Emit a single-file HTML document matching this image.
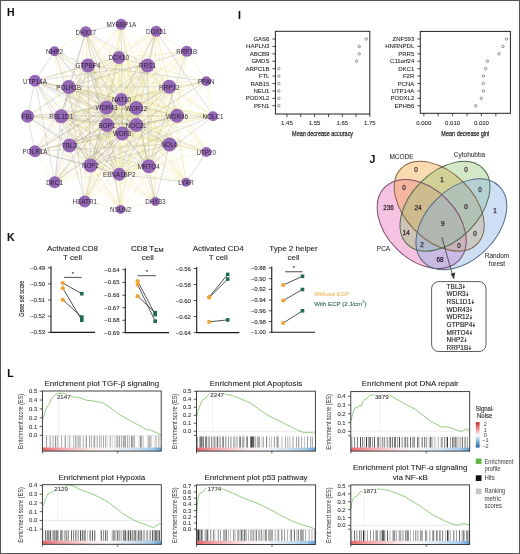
<!DOCTYPE html>
<html><head><meta charset="utf-8"><style>
html,body{margin:0;padding:0;background:#fff;width:520px;height:554px;overflow:hidden}
svg{display:block;will-change:transform}
text{font-family:"Liberation Sans",sans-serif}
</style></head><body>
<svg width="520" height="554" viewBox="0 0 520 554" font-family="Liberation Sans, sans-serif">
<rect width="520" height="554" fill="#fff"/>
<defs><filter id="eb" x="-5%" y="-5%" width="110%" height="110%"><feGaussianBlur stdDeviation="0.75"/></filter></defs>
<g stroke-linecap="round" filter="url(#eb)">
<line x1="85.75" y1="31.75" x2="54.5" y2="51.25" stroke="#e8e08c" stroke-opacity="0.38" stroke-width="0.85"/>
<line x1="85.75" y1="31.75" x2="118.75" y2="57.5" stroke="#e8e08c" stroke-opacity="0.38" stroke-width="0.85"/>
<line x1="85.75" y1="31.75" x2="88" y2="65.5" stroke="#e8e08c" stroke-opacity="0.38" stroke-width="0.85"/>
<line x1="85.75" y1="31.75" x2="169.25" y2="86.75" stroke="#e8e08c" stroke-opacity="0.38" stroke-width="0.85"/>
<line x1="85.75" y1="31.75" x2="136.25" y2="108" stroke="#e8e08c" stroke-opacity="0.38" stroke-width="0.85"/>
<line x1="85.75" y1="31.75" x2="177" y2="115.75" stroke="#e8e08c" stroke-opacity="0.38" stroke-width="0.85"/>
<line x1="85.75" y1="31.75" x2="107" y2="125" stroke="#e8e08c" stroke-opacity="0.38" stroke-width="0.85"/>
<line x1="85.75" y1="31.75" x2="136.25" y2="125" stroke="#e8e08c" stroke-opacity="0.38" stroke-width="0.85"/>
<line x1="85.75" y1="31.75" x2="69.5" y2="145.5" stroke="#e8e08c" stroke-opacity="0.38" stroke-width="0.85"/>
<line x1="85.75" y1="31.75" x2="169.5" y2="144.5" stroke="#e8e08c" stroke-opacity="0.38" stroke-width="0.85"/>
<line x1="85.75" y1="31.75" x2="90.5" y2="165.5" stroke="#e8e08c" stroke-opacity="0.38" stroke-width="0.85"/>
<line x1="85.75" y1="31.75" x2="148.75" y2="166.25" stroke="#e8e08c" stroke-opacity="0.38" stroke-width="0.85"/>
<line x1="85.75" y1="31.75" x2="119.25" y2="174.25" stroke="#e8e08c" stroke-opacity="0.38" stroke-width="0.85"/>
<line x1="121.25" y1="24.25" x2="118.75" y2="57.5" stroke="#e8e08c" stroke-opacity="0.38" stroke-width="0.85"/>
<line x1="121.25" y1="24.25" x2="88" y2="65.5" stroke="#e8e08c" stroke-opacity="0.38" stroke-width="0.85"/>
<line x1="121.25" y1="24.25" x2="68.75" y2="87" stroke="#e8e08c" stroke-opacity="0.38" stroke-width="0.85"/>
<line x1="121.25" y1="24.25" x2="169.25" y2="86.75" stroke="#e8e08c" stroke-opacity="0.38" stroke-width="0.85"/>
<line x1="121.25" y1="24.25" x2="106.5" y2="107.5" stroke="#e8e08c" stroke-opacity="0.38" stroke-width="0.85"/>
<line x1="121.25" y1="24.25" x2="136.25" y2="108" stroke="#e8e08c" stroke-opacity="0.38" stroke-width="0.85"/>
<line x1="121.25" y1="24.25" x2="107" y2="125" stroke="#e8e08c" stroke-opacity="0.38" stroke-width="0.85"/>
<line x1="121.25" y1="24.25" x2="136.25" y2="125" stroke="#e8e08c" stroke-opacity="0.38" stroke-width="0.85"/>
<line x1="121.25" y1="24.25" x2="69.5" y2="145.5" stroke="#e8e08c" stroke-opacity="0.38" stroke-width="0.85"/>
<line x1="121.25" y1="24.25" x2="169.5" y2="144.5" stroke="#e8e08c" stroke-opacity="0.38" stroke-width="0.85"/>
<line x1="121.25" y1="24.25" x2="90.5" y2="165.5" stroke="#e8e08c" stroke-opacity="0.38" stroke-width="0.85"/>
<line x1="121.25" y1="24.25" x2="148.75" y2="166.25" stroke="#e8e08c" stroke-opacity="0.38" stroke-width="0.85"/>
<line x1="156.25" y1="31.25" x2="186.75" y2="51.25" stroke="#e8e08c" stroke-opacity="0.38" stroke-width="0.85"/>
<line x1="156.25" y1="31.25" x2="118.75" y2="57.5" stroke="#e8e08c" stroke-opacity="0.38" stroke-width="0.85"/>
<line x1="156.25" y1="31.25" x2="88" y2="65.5" stroke="#e8e08c" stroke-opacity="0.38" stroke-width="0.85"/>
<line x1="156.25" y1="31.25" x2="68.75" y2="87" stroke="#e8e08c" stroke-opacity="0.38" stroke-width="0.85"/>
<line x1="156.25" y1="31.25" x2="169.25" y2="86.75" stroke="#e8e08c" stroke-opacity="0.38" stroke-width="0.85"/>
<line x1="156.25" y1="31.25" x2="121.5" y2="99.5" stroke="#e8e08c" stroke-opacity="0.38" stroke-width="0.85"/>
<line x1="156.25" y1="31.25" x2="106.5" y2="107.5" stroke="#e8e08c" stroke-opacity="0.38" stroke-width="0.85"/>
<line x1="156.25" y1="31.25" x2="136.25" y2="108" stroke="#e8e08c" stroke-opacity="0.38" stroke-width="0.85"/>
<line x1="156.25" y1="31.25" x2="61.25" y2="116.25" stroke="#e8e08c" stroke-opacity="0.38" stroke-width="0.85"/>
<line x1="156.25" y1="31.25" x2="177" y2="115.75" stroke="#e8e08c" stroke-opacity="0.38" stroke-width="0.85"/>
<line x1="156.25" y1="31.25" x2="122.25" y2="133.5" stroke="#e8e08c" stroke-opacity="0.38" stroke-width="0.85"/>
<line x1="156.25" y1="31.25" x2="69.5" y2="145.5" stroke="#e8e08c" stroke-opacity="0.38" stroke-width="0.85"/>
<line x1="156.25" y1="31.25" x2="169.5" y2="144.5" stroke="#e8e08c" stroke-opacity="0.38" stroke-width="0.85"/>
<line x1="156.25" y1="31.25" x2="90.5" y2="165.5" stroke="#e8e08c" stroke-opacity="0.38" stroke-width="0.85"/>
<line x1="156.25" y1="31.25" x2="148.75" y2="166.25" stroke="#e8e08c" stroke-opacity="0.38" stroke-width="0.85"/>
<line x1="156.25" y1="31.25" x2="155.4" y2="201.5" stroke="#e8e08c" stroke-opacity="0.38" stroke-width="0.85"/>
<line x1="54.5" y1="51.25" x2="68.75" y2="87" stroke="#e8e08c" stroke-opacity="0.38" stroke-width="0.85"/>
<line x1="54.5" y1="51.25" x2="61.25" y2="116.25" stroke="#e8e08c" stroke-opacity="0.38" stroke-width="0.85"/>
<line x1="54.5" y1="51.25" x2="177" y2="115.75" stroke="#e8e08c" stroke-opacity="0.38" stroke-width="0.85"/>
<line x1="54.5" y1="51.25" x2="169.5" y2="144.5" stroke="#e8e08c" stroke-opacity="0.38" stroke-width="0.85"/>
<line x1="54.5" y1="51.25" x2="119.25" y2="174.25" stroke="#e8e08c" stroke-opacity="0.38" stroke-width="0.85"/>
<line x1="186.75" y1="51.25" x2="118.75" y2="57.5" stroke="#e8e08c" stroke-opacity="0.38" stroke-width="0.85"/>
<line x1="186.75" y1="51.25" x2="88" y2="65.5" stroke="#e8e08c" stroke-opacity="0.38" stroke-width="0.85"/>
<line x1="186.75" y1="51.25" x2="147.5" y2="65.5" stroke="#e8e08c" stroke-opacity="0.38" stroke-width="0.85"/>
<line x1="186.75" y1="51.25" x2="206.25" y2="81.25" stroke="#e8e08c" stroke-opacity="0.38" stroke-width="0.85"/>
<line x1="186.75" y1="51.25" x2="169.25" y2="86.75" stroke="#e8e08c" stroke-opacity="0.38" stroke-width="0.85"/>
<line x1="186.75" y1="51.25" x2="121.5" y2="99.5" stroke="#e8e08c" stroke-opacity="0.38" stroke-width="0.85"/>
<line x1="186.75" y1="51.25" x2="106.5" y2="107.5" stroke="#e8e08c" stroke-opacity="0.38" stroke-width="0.85"/>
<line x1="186.75" y1="51.25" x2="136.25" y2="108" stroke="#e8e08c" stroke-opacity="0.38" stroke-width="0.85"/>
<line x1="186.75" y1="51.25" x2="177" y2="115.75" stroke="#e8e08c" stroke-opacity="0.38" stroke-width="0.85"/>
<line x1="186.75" y1="51.25" x2="107" y2="125" stroke="#e8e08c" stroke-opacity="0.38" stroke-width="0.85"/>
<line x1="186.75" y1="51.25" x2="136.25" y2="125" stroke="#e8e08c" stroke-opacity="0.38" stroke-width="0.85"/>
<line x1="186.75" y1="51.25" x2="169.5" y2="144.5" stroke="#e8e08c" stroke-opacity="0.38" stroke-width="0.85"/>
<line x1="186.75" y1="51.25" x2="90.5" y2="165.5" stroke="#e8e08c" stroke-opacity="0.38" stroke-width="0.85"/>
<line x1="118.75" y1="57.5" x2="35" y2="80.75" stroke="#e8e08c" stroke-opacity="0.38" stroke-width="0.85"/>
<line x1="118.75" y1="57.5" x2="206.25" y2="81.25" stroke="#e8e08c" stroke-opacity="0.38" stroke-width="0.85"/>
<line x1="118.75" y1="57.5" x2="68.75" y2="87" stroke="#e8e08c" stroke-opacity="0.38" stroke-width="0.85"/>
<line x1="118.75" y1="57.5" x2="169.25" y2="86.75" stroke="#e8e08c" stroke-opacity="0.38" stroke-width="0.85"/>
<line x1="118.75" y1="57.5" x2="121.5" y2="99.5" stroke="#e8e08c" stroke-opacity="0.38" stroke-width="0.85"/>
<line x1="118.75" y1="57.5" x2="106.5" y2="107.5" stroke="#e8e08c" stroke-opacity="0.38" stroke-width="0.85"/>
<line x1="118.75" y1="57.5" x2="136.25" y2="108" stroke="#e8e08c" stroke-opacity="0.38" stroke-width="0.85"/>
<line x1="118.75" y1="57.5" x2="177" y2="115.75" stroke="#e8e08c" stroke-opacity="0.38" stroke-width="0.85"/>
<line x1="118.75" y1="57.5" x2="213" y2="116.25" stroke="#e8e08c" stroke-opacity="0.38" stroke-width="0.85"/>
<line x1="118.75" y1="57.5" x2="107" y2="125" stroke="#e8e08c" stroke-opacity="0.38" stroke-width="0.85"/>
<line x1="118.75" y1="57.5" x2="136.25" y2="125" stroke="#e8e08c" stroke-opacity="0.38" stroke-width="0.85"/>
<line x1="118.75" y1="57.5" x2="122.25" y2="133.5" stroke="#e8e08c" stroke-opacity="0.38" stroke-width="0.85"/>
<line x1="118.75" y1="57.5" x2="69.5" y2="145.5" stroke="#e8e08c" stroke-opacity="0.38" stroke-width="0.85"/>
<line x1="118.75" y1="57.5" x2="169.5" y2="144.5" stroke="#e8e08c" stroke-opacity="0.38" stroke-width="0.85"/>
<line x1="118.75" y1="57.5" x2="35" y2="151.25" stroke="#e8e08c" stroke-opacity="0.38" stroke-width="0.85"/>
<line x1="118.75" y1="57.5" x2="206.25" y2="152" stroke="#e8e08c" stroke-opacity="0.38" stroke-width="0.85"/>
<line x1="118.75" y1="57.5" x2="148.75" y2="166.25" stroke="#e8e08c" stroke-opacity="0.38" stroke-width="0.85"/>
<line x1="118.75" y1="57.5" x2="119.25" y2="174.25" stroke="#e8e08c" stroke-opacity="0.38" stroke-width="0.85"/>
<line x1="118.75" y1="57.5" x2="54.75" y2="182.2" stroke="#e8e08c" stroke-opacity="0.38" stroke-width="0.85"/>
<line x1="118.75" y1="57.5" x2="186" y2="182.2" stroke="#e8e08c" stroke-opacity="0.38" stroke-width="0.85"/>
<line x1="118.75" y1="57.5" x2="84.8" y2="201.5" stroke="#e8e08c" stroke-opacity="0.38" stroke-width="0.85"/>
<line x1="118.75" y1="57.5" x2="120.6" y2="209.4" stroke="#e8e08c" stroke-opacity="0.38" stroke-width="0.85"/>
<line x1="88" y1="65.5" x2="147.5" y2="65.5" stroke="#e8e08c" stroke-opacity="0.38" stroke-width="0.85"/>
<line x1="88" y1="65.5" x2="169.25" y2="86.75" stroke="#e8e08c" stroke-opacity="0.38" stroke-width="0.85"/>
<line x1="88" y1="65.5" x2="106.5" y2="107.5" stroke="#e8e08c" stroke-opacity="0.38" stroke-width="0.85"/>
<line x1="88" y1="65.5" x2="136.25" y2="108" stroke="#e8e08c" stroke-opacity="0.38" stroke-width="0.85"/>
<line x1="88" y1="65.5" x2="61.25" y2="116.25" stroke="#e8e08c" stroke-opacity="0.38" stroke-width="0.85"/>
<line x1="88" y1="65.5" x2="177" y2="115.75" stroke="#e8e08c" stroke-opacity="0.38" stroke-width="0.85"/>
<line x1="88" y1="65.5" x2="136.25" y2="125" stroke="#e8e08c" stroke-opacity="0.38" stroke-width="0.85"/>
<line x1="88" y1="65.5" x2="69.5" y2="145.5" stroke="#e8e08c" stroke-opacity="0.38" stroke-width="0.85"/>
<line x1="88" y1="65.5" x2="169.5" y2="144.5" stroke="#e8e08c" stroke-opacity="0.38" stroke-width="0.85"/>
<line x1="88" y1="65.5" x2="206.25" y2="152" stroke="#e8e08c" stroke-opacity="0.38" stroke-width="0.85"/>
<line x1="88" y1="65.5" x2="148.75" y2="166.25" stroke="#e8e08c" stroke-opacity="0.38" stroke-width="0.85"/>
<line x1="88" y1="65.5" x2="186" y2="182.2" stroke="#e8e08c" stroke-opacity="0.38" stroke-width="0.85"/>
<line x1="88" y1="65.5" x2="84.8" y2="201.5" stroke="#e8e08c" stroke-opacity="0.38" stroke-width="0.85"/>
<line x1="147.5" y1="65.5" x2="68.75" y2="87" stroke="#e8e08c" stroke-opacity="0.38" stroke-width="0.85"/>
<line x1="147.5" y1="65.5" x2="121.5" y2="99.5" stroke="#e8e08c" stroke-opacity="0.38" stroke-width="0.85"/>
<line x1="147.5" y1="65.5" x2="106.5" y2="107.5" stroke="#e8e08c" stroke-opacity="0.38" stroke-width="0.85"/>
<line x1="147.5" y1="65.5" x2="136.25" y2="108" stroke="#e8e08c" stroke-opacity="0.38" stroke-width="0.85"/>
<line x1="147.5" y1="65.5" x2="27.5" y2="116.25" stroke="#e8e08c" stroke-opacity="0.38" stroke-width="0.85"/>
<line x1="147.5" y1="65.5" x2="61.25" y2="116.25" stroke="#e8e08c" stroke-opacity="0.38" stroke-width="0.85"/>
<line x1="147.5" y1="65.5" x2="177" y2="115.75" stroke="#e8e08c" stroke-opacity="0.38" stroke-width="0.85"/>
<line x1="147.5" y1="65.5" x2="213" y2="116.25" stroke="#e8e08c" stroke-opacity="0.38" stroke-width="0.85"/>
<line x1="147.5" y1="65.5" x2="136.25" y2="125" stroke="#e8e08c" stroke-opacity="0.38" stroke-width="0.85"/>
<line x1="147.5" y1="65.5" x2="169.5" y2="144.5" stroke="#e8e08c" stroke-opacity="0.38" stroke-width="0.85"/>
<line x1="147.5" y1="65.5" x2="206.25" y2="152" stroke="#e8e08c" stroke-opacity="0.38" stroke-width="0.85"/>
<line x1="147.5" y1="65.5" x2="119.25" y2="174.25" stroke="#e8e08c" stroke-opacity="0.38" stroke-width="0.85"/>
<line x1="147.5" y1="65.5" x2="54.75" y2="182.2" stroke="#e8e08c" stroke-opacity="0.38" stroke-width="0.85"/>
<line x1="147.5" y1="65.5" x2="84.8" y2="201.5" stroke="#e8e08c" stroke-opacity="0.38" stroke-width="0.85"/>
<line x1="147.5" y1="65.5" x2="155.4" y2="201.5" stroke="#e8e08c" stroke-opacity="0.38" stroke-width="0.85"/>
<line x1="35" y1="80.75" x2="68.75" y2="87" stroke="#e8e08c" stroke-opacity="0.38" stroke-width="0.85"/>
<line x1="35" y1="80.75" x2="121.5" y2="99.5" stroke="#e8e08c" stroke-opacity="0.38" stroke-width="0.85"/>
<line x1="35" y1="80.75" x2="106.5" y2="107.5" stroke="#e8e08c" stroke-opacity="0.38" stroke-width="0.85"/>
<line x1="35" y1="80.75" x2="61.25" y2="116.25" stroke="#e8e08c" stroke-opacity="0.38" stroke-width="0.85"/>
<line x1="35" y1="80.75" x2="213" y2="116.25" stroke="#e8e08c" stroke-opacity="0.38" stroke-width="0.85"/>
<line x1="206.25" y1="81.25" x2="68.75" y2="87" stroke="#e8e08c" stroke-opacity="0.38" stroke-width="0.85"/>
<line x1="206.25" y1="81.25" x2="169.25" y2="86.75" stroke="#e8e08c" stroke-opacity="0.38" stroke-width="0.85"/>
<line x1="206.25" y1="81.25" x2="106.5" y2="107.5" stroke="#e8e08c" stroke-opacity="0.38" stroke-width="0.85"/>
<line x1="206.25" y1="81.25" x2="136.25" y2="108" stroke="#e8e08c" stroke-opacity="0.38" stroke-width="0.85"/>
<line x1="206.25" y1="81.25" x2="61.25" y2="116.25" stroke="#e8e08c" stroke-opacity="0.38" stroke-width="0.85"/>
<line x1="206.25" y1="81.25" x2="213" y2="116.25" stroke="#e8e08c" stroke-opacity="0.38" stroke-width="0.85"/>
<line x1="206.25" y1="81.25" x2="136.25" y2="125" stroke="#e8e08c" stroke-opacity="0.38" stroke-width="0.85"/>
<line x1="206.25" y1="81.25" x2="148.75" y2="166.25" stroke="#e8e08c" stroke-opacity="0.38" stroke-width="0.85"/>
<line x1="206.25" y1="81.25" x2="119.25" y2="174.25" stroke="#e8e08c" stroke-opacity="0.38" stroke-width="0.85"/>
<line x1="68.75" y1="87" x2="136.25" y2="108" stroke="#e8e08c" stroke-opacity="0.38" stroke-width="0.85"/>
<line x1="68.75" y1="87" x2="27.5" y2="116.25" stroke="#e8e08c" stroke-opacity="0.38" stroke-width="0.85"/>
<line x1="68.75" y1="87" x2="177" y2="115.75" stroke="#e8e08c" stroke-opacity="0.38" stroke-width="0.85"/>
<line x1="68.75" y1="87" x2="213" y2="116.25" stroke="#e8e08c" stroke-opacity="0.38" stroke-width="0.85"/>
<line x1="68.75" y1="87" x2="107" y2="125" stroke="#e8e08c" stroke-opacity="0.38" stroke-width="0.85"/>
<line x1="68.75" y1="87" x2="136.25" y2="125" stroke="#e8e08c" stroke-opacity="0.38" stroke-width="0.85"/>
<line x1="68.75" y1="87" x2="69.5" y2="145.5" stroke="#e8e08c" stroke-opacity="0.38" stroke-width="0.85"/>
<line x1="68.75" y1="87" x2="169.5" y2="144.5" stroke="#e8e08c" stroke-opacity="0.38" stroke-width="0.85"/>
<line x1="68.75" y1="87" x2="206.25" y2="152" stroke="#e8e08c" stroke-opacity="0.38" stroke-width="0.85"/>
<line x1="68.75" y1="87" x2="90.5" y2="165.5" stroke="#e8e08c" stroke-opacity="0.38" stroke-width="0.85"/>
<line x1="68.75" y1="87" x2="148.75" y2="166.25" stroke="#e8e08c" stroke-opacity="0.38" stroke-width="0.85"/>
<line x1="68.75" y1="87" x2="186" y2="182.2" stroke="#e8e08c" stroke-opacity="0.38" stroke-width="0.85"/>
<line x1="68.75" y1="87" x2="155.4" y2="201.5" stroke="#e8e08c" stroke-opacity="0.38" stroke-width="0.85"/>
<line x1="68.75" y1="87" x2="120.6" y2="209.4" stroke="#e8e08c" stroke-opacity="0.38" stroke-width="0.85"/>
<line x1="169.25" y1="86.75" x2="121.5" y2="99.5" stroke="#e8e08c" stroke-opacity="0.38" stroke-width="0.85"/>
<line x1="169.25" y1="86.75" x2="106.5" y2="107.5" stroke="#e8e08c" stroke-opacity="0.38" stroke-width="0.85"/>
<line x1="169.25" y1="86.75" x2="61.25" y2="116.25" stroke="#e8e08c" stroke-opacity="0.38" stroke-width="0.85"/>
<line x1="169.25" y1="86.75" x2="213" y2="116.25" stroke="#e8e08c" stroke-opacity="0.38" stroke-width="0.85"/>
<line x1="169.25" y1="86.75" x2="107" y2="125" stroke="#e8e08c" stroke-opacity="0.38" stroke-width="0.85"/>
<line x1="169.25" y1="86.75" x2="136.25" y2="125" stroke="#e8e08c" stroke-opacity="0.38" stroke-width="0.85"/>
<line x1="169.25" y1="86.75" x2="122.25" y2="133.5" stroke="#e8e08c" stroke-opacity="0.38" stroke-width="0.85"/>
<line x1="169.25" y1="86.75" x2="169.5" y2="144.5" stroke="#e8e08c" stroke-opacity="0.38" stroke-width="0.85"/>
<line x1="169.25" y1="86.75" x2="35" y2="151.25" stroke="#e8e08c" stroke-opacity="0.38" stroke-width="0.85"/>
<line x1="169.25" y1="86.75" x2="206.25" y2="152" stroke="#e8e08c" stroke-opacity="0.38" stroke-width="0.85"/>
<line x1="169.25" y1="86.75" x2="148.75" y2="166.25" stroke="#e8e08c" stroke-opacity="0.38" stroke-width="0.85"/>
<line x1="169.25" y1="86.75" x2="54.75" y2="182.2" stroke="#e8e08c" stroke-opacity="0.38" stroke-width="0.85"/>
<line x1="169.25" y1="86.75" x2="186" y2="182.2" stroke="#e8e08c" stroke-opacity="0.38" stroke-width="0.85"/>
<line x1="169.25" y1="86.75" x2="84.8" y2="201.5" stroke="#e8e08c" stroke-opacity="0.38" stroke-width="0.85"/>
<line x1="169.25" y1="86.75" x2="120.6" y2="209.4" stroke="#e8e08c" stroke-opacity="0.38" stroke-width="0.85"/>
<line x1="121.5" y1="99.5" x2="136.25" y2="108" stroke="#e8e08c" stroke-opacity="0.38" stroke-width="0.85"/>
<line x1="121.5" y1="99.5" x2="177" y2="115.75" stroke="#e8e08c" stroke-opacity="0.38" stroke-width="0.85"/>
<line x1="121.5" y1="99.5" x2="213" y2="116.25" stroke="#e8e08c" stroke-opacity="0.38" stroke-width="0.85"/>
<line x1="121.5" y1="99.5" x2="169.5" y2="144.5" stroke="#e8e08c" stroke-opacity="0.38" stroke-width="0.85"/>
<line x1="121.5" y1="99.5" x2="90.5" y2="165.5" stroke="#e8e08c" stroke-opacity="0.38" stroke-width="0.85"/>
<line x1="121.5" y1="99.5" x2="148.75" y2="166.25" stroke="#e8e08c" stroke-opacity="0.38" stroke-width="0.85"/>
<line x1="121.5" y1="99.5" x2="119.25" y2="174.25" stroke="#e8e08c" stroke-opacity="0.38" stroke-width="0.85"/>
<line x1="121.5" y1="99.5" x2="186" y2="182.2" stroke="#e8e08c" stroke-opacity="0.38" stroke-width="0.85"/>
<line x1="121.5" y1="99.5" x2="84.8" y2="201.5" stroke="#e8e08c" stroke-opacity="0.38" stroke-width="0.85"/>
<line x1="106.5" y1="107.5" x2="136.25" y2="108" stroke="#e8e08c" stroke-opacity="0.38" stroke-width="0.85"/>
<line x1="106.5" y1="107.5" x2="61.25" y2="116.25" stroke="#e8e08c" stroke-opacity="0.38" stroke-width="0.85"/>
<line x1="106.5" y1="107.5" x2="177" y2="115.75" stroke="#e8e08c" stroke-opacity="0.38" stroke-width="0.85"/>
<line x1="106.5" y1="107.5" x2="213" y2="116.25" stroke="#e8e08c" stroke-opacity="0.38" stroke-width="0.85"/>
<line x1="106.5" y1="107.5" x2="122.25" y2="133.5" stroke="#e8e08c" stroke-opacity="0.38" stroke-width="0.85"/>
<line x1="106.5" y1="107.5" x2="69.5" y2="145.5" stroke="#e8e08c" stroke-opacity="0.38" stroke-width="0.85"/>
<line x1="106.5" y1="107.5" x2="169.5" y2="144.5" stroke="#e8e08c" stroke-opacity="0.38" stroke-width="0.85"/>
<line x1="106.5" y1="107.5" x2="206.25" y2="152" stroke="#e8e08c" stroke-opacity="0.38" stroke-width="0.85"/>
<line x1="106.5" y1="107.5" x2="148.75" y2="166.25" stroke="#e8e08c" stroke-opacity="0.38" stroke-width="0.85"/>
<line x1="106.5" y1="107.5" x2="119.25" y2="174.25" stroke="#e8e08c" stroke-opacity="0.38" stroke-width="0.85"/>
<line x1="106.5" y1="107.5" x2="186" y2="182.2" stroke="#e8e08c" stroke-opacity="0.38" stroke-width="0.85"/>
<line x1="106.5" y1="107.5" x2="155.4" y2="201.5" stroke="#e8e08c" stroke-opacity="0.38" stroke-width="0.85"/>
<line x1="106.5" y1="107.5" x2="120.6" y2="209.4" stroke="#e8e08c" stroke-opacity="0.38" stroke-width="0.85"/>
<line x1="136.25" y1="108" x2="27.5" y2="116.25" stroke="#e8e08c" stroke-opacity="0.38" stroke-width="0.85"/>
<line x1="136.25" y1="108" x2="177" y2="115.75" stroke="#e8e08c" stroke-opacity="0.38" stroke-width="0.85"/>
<line x1="136.25" y1="108" x2="213" y2="116.25" stroke="#e8e08c" stroke-opacity="0.38" stroke-width="0.85"/>
<line x1="136.25" y1="108" x2="107" y2="125" stroke="#e8e08c" stroke-opacity="0.38" stroke-width="0.85"/>
<line x1="136.25" y1="108" x2="122.25" y2="133.5" stroke="#e8e08c" stroke-opacity="0.38" stroke-width="0.85"/>
<line x1="136.25" y1="108" x2="69.5" y2="145.5" stroke="#e8e08c" stroke-opacity="0.38" stroke-width="0.85"/>
<line x1="136.25" y1="108" x2="169.5" y2="144.5" stroke="#e8e08c" stroke-opacity="0.38" stroke-width="0.85"/>
<line x1="136.25" y1="108" x2="90.5" y2="165.5" stroke="#e8e08c" stroke-opacity="0.38" stroke-width="0.85"/>
<line x1="136.25" y1="108" x2="119.25" y2="174.25" stroke="#e8e08c" stroke-opacity="0.38" stroke-width="0.85"/>
<line x1="136.25" y1="108" x2="54.75" y2="182.2" stroke="#e8e08c" stroke-opacity="0.38" stroke-width="0.85"/>
<line x1="136.25" y1="108" x2="186" y2="182.2" stroke="#e8e08c" stroke-opacity="0.38" stroke-width="0.85"/>
<line x1="136.25" y1="108" x2="84.8" y2="201.5" stroke="#e8e08c" stroke-opacity="0.38" stroke-width="0.85"/>
<line x1="136.25" y1="108" x2="120.6" y2="209.4" stroke="#e8e08c" stroke-opacity="0.38" stroke-width="0.85"/>
<line x1="27.5" y1="116.25" x2="107" y2="125" stroke="#e8e08c" stroke-opacity="0.38" stroke-width="0.85"/>
<line x1="27.5" y1="116.25" x2="122.25" y2="133.5" stroke="#e8e08c" stroke-opacity="0.38" stroke-width="0.85"/>
<line x1="27.5" y1="116.25" x2="169.5" y2="144.5" stroke="#e8e08c" stroke-opacity="0.38" stroke-width="0.85"/>
<line x1="27.5" y1="116.25" x2="148.75" y2="166.25" stroke="#e8e08c" stroke-opacity="0.38" stroke-width="0.85"/>
<line x1="27.5" y1="116.25" x2="120.6" y2="209.4" stroke="#e8e08c" stroke-opacity="0.38" stroke-width="0.85"/>
<line x1="61.25" y1="116.25" x2="177" y2="115.75" stroke="#e8e08c" stroke-opacity="0.38" stroke-width="0.85"/>
<line x1="61.25" y1="116.25" x2="213" y2="116.25" stroke="#e8e08c" stroke-opacity="0.38" stroke-width="0.85"/>
<line x1="61.25" y1="116.25" x2="122.25" y2="133.5" stroke="#e8e08c" stroke-opacity="0.38" stroke-width="0.85"/>
<line x1="61.25" y1="116.25" x2="69.5" y2="145.5" stroke="#e8e08c" stroke-opacity="0.38" stroke-width="0.85"/>
<line x1="61.25" y1="116.25" x2="169.5" y2="144.5" stroke="#e8e08c" stroke-opacity="0.38" stroke-width="0.85"/>
<line x1="61.25" y1="116.25" x2="35" y2="151.25" stroke="#e8e08c" stroke-opacity="0.38" stroke-width="0.85"/>
<line x1="61.25" y1="116.25" x2="206.25" y2="152" stroke="#e8e08c" stroke-opacity="0.38" stroke-width="0.85"/>
<line x1="61.25" y1="116.25" x2="186" y2="182.2" stroke="#e8e08c" stroke-opacity="0.38" stroke-width="0.85"/>
<line x1="61.25" y1="116.25" x2="155.4" y2="201.5" stroke="#e8e08c" stroke-opacity="0.38" stroke-width="0.85"/>
<line x1="61.25" y1="116.25" x2="120.6" y2="209.4" stroke="#e8e08c" stroke-opacity="0.38" stroke-width="0.85"/>
<line x1="177" y1="115.75" x2="107" y2="125" stroke="#e8e08c" stroke-opacity="0.38" stroke-width="0.85"/>
<line x1="177" y1="115.75" x2="136.25" y2="125" stroke="#e8e08c" stroke-opacity="0.38" stroke-width="0.85"/>
<line x1="177" y1="115.75" x2="122.25" y2="133.5" stroke="#e8e08c" stroke-opacity="0.38" stroke-width="0.85"/>
<line x1="177" y1="115.75" x2="169.5" y2="144.5" stroke="#e8e08c" stroke-opacity="0.38" stroke-width="0.85"/>
<line x1="177" y1="115.75" x2="206.25" y2="152" stroke="#e8e08c" stroke-opacity="0.38" stroke-width="0.85"/>
<line x1="177" y1="115.75" x2="119.25" y2="174.25" stroke="#e8e08c" stroke-opacity="0.38" stroke-width="0.85"/>
<line x1="177" y1="115.75" x2="186" y2="182.2" stroke="#e8e08c" stroke-opacity="0.38" stroke-width="0.85"/>
<line x1="177" y1="115.75" x2="84.8" y2="201.5" stroke="#e8e08c" stroke-opacity="0.38" stroke-width="0.85"/>
<line x1="213" y1="116.25" x2="136.25" y2="125" stroke="#e8e08c" stroke-opacity="0.38" stroke-width="0.85"/>
<line x1="213" y1="116.25" x2="69.5" y2="145.5" stroke="#e8e08c" stroke-opacity="0.38" stroke-width="0.85"/>
<line x1="213" y1="116.25" x2="35" y2="151.25" stroke="#e8e08c" stroke-opacity="0.38" stroke-width="0.85"/>
<line x1="107" y1="125" x2="136.25" y2="125" stroke="#e8e08c" stroke-opacity="0.38" stroke-width="0.85"/>
<line x1="107" y1="125" x2="122.25" y2="133.5" stroke="#e8e08c" stroke-opacity="0.38" stroke-width="0.85"/>
<line x1="107" y1="125" x2="169.5" y2="144.5" stroke="#e8e08c" stroke-opacity="0.38" stroke-width="0.85"/>
<line x1="107" y1="125" x2="206.25" y2="152" stroke="#e8e08c" stroke-opacity="0.38" stroke-width="0.85"/>
<line x1="107" y1="125" x2="148.75" y2="166.25" stroke="#e8e08c" stroke-opacity="0.38" stroke-width="0.85"/>
<line x1="107" y1="125" x2="119.25" y2="174.25" stroke="#e8e08c" stroke-opacity="0.38" stroke-width="0.85"/>
<line x1="107" y1="125" x2="54.75" y2="182.2" stroke="#e8e08c" stroke-opacity="0.38" stroke-width="0.85"/>
<line x1="107" y1="125" x2="186" y2="182.2" stroke="#e8e08c" stroke-opacity="0.38" stroke-width="0.85"/>
<line x1="107" y1="125" x2="84.8" y2="201.5" stroke="#e8e08c" stroke-opacity="0.38" stroke-width="0.85"/>
<line x1="107" y1="125" x2="155.4" y2="201.5" stroke="#e8e08c" stroke-opacity="0.38" stroke-width="0.85"/>
<line x1="107" y1="125" x2="120.6" y2="209.4" stroke="#e8e08c" stroke-opacity="0.38" stroke-width="0.85"/>
<line x1="136.25" y1="125" x2="69.5" y2="145.5" stroke="#e8e08c" stroke-opacity="0.38" stroke-width="0.85"/>
<line x1="136.25" y1="125" x2="148.75" y2="166.25" stroke="#e8e08c" stroke-opacity="0.38" stroke-width="0.85"/>
<line x1="136.25" y1="125" x2="186" y2="182.2" stroke="#e8e08c" stroke-opacity="0.38" stroke-width="0.85"/>
<line x1="136.25" y1="125" x2="84.8" y2="201.5" stroke="#e8e08c" stroke-opacity="0.38" stroke-width="0.85"/>
<line x1="136.25" y1="125" x2="155.4" y2="201.5" stroke="#e8e08c" stroke-opacity="0.38" stroke-width="0.85"/>
<line x1="136.25" y1="125" x2="120.6" y2="209.4" stroke="#e8e08c" stroke-opacity="0.38" stroke-width="0.85"/>
<line x1="122.25" y1="133.5" x2="69.5" y2="145.5" stroke="#e8e08c" stroke-opacity="0.38" stroke-width="0.85"/>
<line x1="122.25" y1="133.5" x2="169.5" y2="144.5" stroke="#e8e08c" stroke-opacity="0.38" stroke-width="0.85"/>
<line x1="122.25" y1="133.5" x2="35" y2="151.25" stroke="#e8e08c" stroke-opacity="0.38" stroke-width="0.85"/>
<line x1="122.25" y1="133.5" x2="206.25" y2="152" stroke="#e8e08c" stroke-opacity="0.38" stroke-width="0.85"/>
<line x1="122.25" y1="133.5" x2="119.25" y2="174.25" stroke="#e8e08c" stroke-opacity="0.38" stroke-width="0.85"/>
<line x1="122.25" y1="133.5" x2="120.6" y2="209.4" stroke="#e8e08c" stroke-opacity="0.38" stroke-width="0.85"/>
<line x1="69.5" y1="145.5" x2="169.5" y2="144.5" stroke="#e8e08c" stroke-opacity="0.38" stroke-width="0.85"/>
<line x1="69.5" y1="145.5" x2="119.25" y2="174.25" stroke="#e8e08c" stroke-opacity="0.38" stroke-width="0.85"/>
<line x1="69.5" y1="145.5" x2="54.75" y2="182.2" stroke="#e8e08c" stroke-opacity="0.38" stroke-width="0.85"/>
<line x1="69.5" y1="145.5" x2="186" y2="182.2" stroke="#e8e08c" stroke-opacity="0.38" stroke-width="0.85"/>
<line x1="69.5" y1="145.5" x2="155.4" y2="201.5" stroke="#e8e08c" stroke-opacity="0.38" stroke-width="0.85"/>
<line x1="69.5" y1="145.5" x2="120.6" y2="209.4" stroke="#e8e08c" stroke-opacity="0.38" stroke-width="0.85"/>
<line x1="169.5" y1="144.5" x2="206.25" y2="152" stroke="#e8e08c" stroke-opacity="0.38" stroke-width="0.85"/>
<line x1="169.5" y1="144.5" x2="148.75" y2="166.25" stroke="#e8e08c" stroke-opacity="0.38" stroke-width="0.85"/>
<line x1="169.5" y1="144.5" x2="54.75" y2="182.2" stroke="#e8e08c" stroke-opacity="0.38" stroke-width="0.85"/>
<line x1="169.5" y1="144.5" x2="186" y2="182.2" stroke="#e8e08c" stroke-opacity="0.38" stroke-width="0.85"/>
<line x1="169.5" y1="144.5" x2="84.8" y2="201.5" stroke="#e8e08c" stroke-opacity="0.38" stroke-width="0.85"/>
<line x1="169.5" y1="144.5" x2="120.6" y2="209.4" stroke="#e8e08c" stroke-opacity="0.38" stroke-width="0.85"/>
<line x1="35" y1="151.25" x2="148.75" y2="166.25" stroke="#e8e08c" stroke-opacity="0.38" stroke-width="0.85"/>
<line x1="35" y1="151.25" x2="54.75" y2="182.2" stroke="#e8e08c" stroke-opacity="0.38" stroke-width="0.85"/>
<line x1="206.25" y1="152" x2="119.25" y2="174.25" stroke="#e8e08c" stroke-opacity="0.38" stroke-width="0.85"/>
<line x1="90.5" y1="165.5" x2="148.75" y2="166.25" stroke="#e8e08c" stroke-opacity="0.38" stroke-width="0.85"/>
<line x1="90.5" y1="165.5" x2="54.75" y2="182.2" stroke="#e8e08c" stroke-opacity="0.38" stroke-width="0.85"/>
<line x1="90.5" y1="165.5" x2="186" y2="182.2" stroke="#e8e08c" stroke-opacity="0.38" stroke-width="0.85"/>
<line x1="90.5" y1="165.5" x2="84.8" y2="201.5" stroke="#e8e08c" stroke-opacity="0.38" stroke-width="0.85"/>
<line x1="90.5" y1="165.5" x2="155.4" y2="201.5" stroke="#e8e08c" stroke-opacity="0.38" stroke-width="0.85"/>
<line x1="90.5" y1="165.5" x2="120.6" y2="209.4" stroke="#e8e08c" stroke-opacity="0.38" stroke-width="0.85"/>
<line x1="148.75" y1="166.25" x2="119.25" y2="174.25" stroke="#e8e08c" stroke-opacity="0.38" stroke-width="0.85"/>
<line x1="148.75" y1="166.25" x2="54.75" y2="182.2" stroke="#e8e08c" stroke-opacity="0.38" stroke-width="0.85"/>
<line x1="148.75" y1="166.25" x2="155.4" y2="201.5" stroke="#e8e08c" stroke-opacity="0.38" stroke-width="0.85"/>
<line x1="119.25" y1="174.25" x2="155.4" y2="201.5" stroke="#e8e08c" stroke-opacity="0.38" stroke-width="0.85"/>
<line x1="119.25" y1="174.25" x2="120.6" y2="209.4" stroke="#e8e08c" stroke-opacity="0.38" stroke-width="0.85"/>
<line x1="84.8" y1="201.5" x2="120.6" y2="209.4" stroke="#e8e08c" stroke-opacity="0.38" stroke-width="0.85"/>
<line x1="155.4" y1="201.5" x2="120.6" y2="209.4" stroke="#e8e08c" stroke-opacity="0.38" stroke-width="0.85"/>
<line x1="85.75" y1="31.75" x2="121.25" y2="24.25" stroke="#aaa094" stroke-opacity="0.36" stroke-width="0.95"/>
<line x1="85.75" y1="31.75" x2="147.5" y2="65.5" stroke="#aaa094" stroke-opacity="0.36" stroke-width="0.95"/>
<line x1="85.75" y1="31.75" x2="68.75" y2="87" stroke="#aaa094" stroke-opacity="0.36" stroke-width="0.95"/>
<line x1="85.75" y1="31.75" x2="121.5" y2="99.5" stroke="#aaa094" stroke-opacity="0.36" stroke-width="0.95"/>
<line x1="85.75" y1="31.75" x2="61.25" y2="116.25" stroke="#aaa094" stroke-opacity="0.36" stroke-width="0.95"/>
<line x1="85.75" y1="31.75" x2="122.25" y2="133.5" stroke="#aaa094" stroke-opacity="0.36" stroke-width="0.95"/>
<line x1="85.75" y1="31.75" x2="120.6" y2="209.4" stroke="#aaa094" stroke-opacity="0.36" stroke-width="0.95"/>
<line x1="121.25" y1="24.25" x2="122.25" y2="133.5" stroke="#aaa094" stroke-opacity="0.36" stroke-width="0.95"/>
<line x1="156.25" y1="31.25" x2="147.5" y2="65.5" stroke="#aaa094" stroke-opacity="0.36" stroke-width="0.95"/>
<line x1="156.25" y1="31.25" x2="213" y2="116.25" stroke="#aaa094" stroke-opacity="0.36" stroke-width="0.95"/>
<line x1="156.25" y1="31.25" x2="107" y2="125" stroke="#aaa094" stroke-opacity="0.36" stroke-width="0.95"/>
<line x1="156.25" y1="31.25" x2="136.25" y2="125" stroke="#aaa094" stroke-opacity="0.36" stroke-width="0.95"/>
<line x1="54.5" y1="51.25" x2="88" y2="65.5" stroke="#aaa094" stroke-opacity="0.36" stroke-width="0.95"/>
<line x1="54.5" y1="51.25" x2="35" y2="80.75" stroke="#aaa094" stroke-opacity="0.36" stroke-width="0.95"/>
<line x1="54.5" y1="51.25" x2="106.5" y2="107.5" stroke="#aaa094" stroke-opacity="0.36" stroke-width="0.95"/>
<line x1="54.5" y1="51.25" x2="136.25" y2="108" stroke="#aaa094" stroke-opacity="0.36" stroke-width="0.95"/>
<line x1="54.5" y1="51.25" x2="90.5" y2="165.5" stroke="#aaa094" stroke-opacity="0.36" stroke-width="0.95"/>
<line x1="54.5" y1="51.25" x2="148.75" y2="166.25" stroke="#aaa094" stroke-opacity="0.36" stroke-width="0.95"/>
<line x1="186.75" y1="51.25" x2="68.75" y2="87" stroke="#aaa094" stroke-opacity="0.36" stroke-width="0.95"/>
<line x1="186.75" y1="51.25" x2="148.75" y2="166.25" stroke="#aaa094" stroke-opacity="0.36" stroke-width="0.95"/>
<line x1="118.75" y1="57.5" x2="88" y2="65.5" stroke="#aaa094" stroke-opacity="0.36" stroke-width="0.95"/>
<line x1="118.75" y1="57.5" x2="147.5" y2="65.5" stroke="#aaa094" stroke-opacity="0.36" stroke-width="0.95"/>
<line x1="118.75" y1="57.5" x2="27.5" y2="116.25" stroke="#aaa094" stroke-opacity="0.36" stroke-width="0.95"/>
<line x1="118.75" y1="57.5" x2="61.25" y2="116.25" stroke="#aaa094" stroke-opacity="0.36" stroke-width="0.95"/>
<line x1="118.75" y1="57.5" x2="90.5" y2="165.5" stroke="#aaa094" stroke-opacity="0.36" stroke-width="0.95"/>
<line x1="88" y1="65.5" x2="35" y2="80.75" stroke="#aaa094" stroke-opacity="0.36" stroke-width="0.95"/>
<line x1="88" y1="65.5" x2="206.25" y2="81.25" stroke="#aaa094" stroke-opacity="0.36" stroke-width="0.95"/>
<line x1="88" y1="65.5" x2="68.75" y2="87" stroke="#aaa094" stroke-opacity="0.36" stroke-width="0.95"/>
<line x1="88" y1="65.5" x2="121.5" y2="99.5" stroke="#aaa094" stroke-opacity="0.36" stroke-width="0.95"/>
<line x1="88" y1="65.5" x2="107" y2="125" stroke="#aaa094" stroke-opacity="0.36" stroke-width="0.95"/>
<line x1="88" y1="65.5" x2="122.25" y2="133.5" stroke="#aaa094" stroke-opacity="0.36" stroke-width="0.95"/>
<line x1="88" y1="65.5" x2="35" y2="151.25" stroke="#aaa094" stroke-opacity="0.36" stroke-width="0.95"/>
<line x1="88" y1="65.5" x2="90.5" y2="165.5" stroke="#aaa094" stroke-opacity="0.36" stroke-width="0.95"/>
<line x1="88" y1="65.5" x2="119.25" y2="174.25" stroke="#aaa094" stroke-opacity="0.36" stroke-width="0.95"/>
<line x1="88" y1="65.5" x2="54.75" y2="182.2" stroke="#aaa094" stroke-opacity="0.36" stroke-width="0.95"/>
<line x1="147.5" y1="65.5" x2="35" y2="80.75" stroke="#aaa094" stroke-opacity="0.36" stroke-width="0.95"/>
<line x1="147.5" y1="65.5" x2="169.25" y2="86.75" stroke="#aaa094" stroke-opacity="0.36" stroke-width="0.95"/>
<line x1="147.5" y1="65.5" x2="107" y2="125" stroke="#aaa094" stroke-opacity="0.36" stroke-width="0.95"/>
<line x1="147.5" y1="65.5" x2="122.25" y2="133.5" stroke="#aaa094" stroke-opacity="0.36" stroke-width="0.95"/>
<line x1="147.5" y1="65.5" x2="69.5" y2="145.5" stroke="#aaa094" stroke-opacity="0.36" stroke-width="0.95"/>
<line x1="147.5" y1="65.5" x2="35" y2="151.25" stroke="#aaa094" stroke-opacity="0.36" stroke-width="0.95"/>
<line x1="147.5" y1="65.5" x2="90.5" y2="165.5" stroke="#aaa094" stroke-opacity="0.36" stroke-width="0.95"/>
<line x1="147.5" y1="65.5" x2="148.75" y2="166.25" stroke="#aaa094" stroke-opacity="0.36" stroke-width="0.95"/>
<line x1="35" y1="80.75" x2="136.25" y2="108" stroke="#aaa094" stroke-opacity="0.36" stroke-width="0.95"/>
<line x1="35" y1="80.75" x2="27.5" y2="116.25" stroke="#aaa094" stroke-opacity="0.36" stroke-width="0.95"/>
<line x1="35" y1="80.75" x2="177" y2="115.75" stroke="#aaa094" stroke-opacity="0.36" stroke-width="0.95"/>
<line x1="35" y1="80.75" x2="136.25" y2="125" stroke="#aaa094" stroke-opacity="0.36" stroke-width="0.95"/>
<line x1="35" y1="80.75" x2="122.25" y2="133.5" stroke="#aaa094" stroke-opacity="0.36" stroke-width="0.95"/>
<line x1="35" y1="80.75" x2="69.5" y2="145.5" stroke="#aaa094" stroke-opacity="0.36" stroke-width="0.95"/>
<line x1="35" y1="80.75" x2="169.5" y2="144.5" stroke="#aaa094" stroke-opacity="0.36" stroke-width="0.95"/>
<line x1="35" y1="80.75" x2="90.5" y2="165.5" stroke="#aaa094" stroke-opacity="0.36" stroke-width="0.95"/>
<line x1="35" y1="80.75" x2="119.25" y2="174.25" stroke="#aaa094" stroke-opacity="0.36" stroke-width="0.95"/>
<line x1="35" y1="80.75" x2="54.75" y2="182.2" stroke="#aaa094" stroke-opacity="0.36" stroke-width="0.95"/>
<line x1="206.25" y1="81.25" x2="121.5" y2="99.5" stroke="#aaa094" stroke-opacity="0.36" stroke-width="0.95"/>
<line x1="206.25" y1="81.25" x2="122.25" y2="133.5" stroke="#aaa094" stroke-opacity="0.36" stroke-width="0.95"/>
<line x1="68.75" y1="87" x2="169.25" y2="86.75" stroke="#aaa094" stroke-opacity="0.36" stroke-width="0.95"/>
<line x1="68.75" y1="87" x2="121.5" y2="99.5" stroke="#aaa094" stroke-opacity="0.36" stroke-width="0.95"/>
<line x1="68.75" y1="87" x2="106.5" y2="107.5" stroke="#aaa094" stroke-opacity="0.36" stroke-width="0.95"/>
<line x1="68.75" y1="87" x2="61.25" y2="116.25" stroke="#aaa094" stroke-opacity="0.36" stroke-width="0.95"/>
<line x1="68.75" y1="87" x2="122.25" y2="133.5" stroke="#aaa094" stroke-opacity="0.36" stroke-width="0.95"/>
<line x1="68.75" y1="87" x2="119.25" y2="174.25" stroke="#aaa094" stroke-opacity="0.36" stroke-width="0.95"/>
<line x1="68.75" y1="87" x2="54.75" y2="182.2" stroke="#aaa094" stroke-opacity="0.36" stroke-width="0.95"/>
<line x1="68.75" y1="87" x2="84.8" y2="201.5" stroke="#aaa094" stroke-opacity="0.36" stroke-width="0.95"/>
<line x1="169.25" y1="86.75" x2="136.25" y2="108" stroke="#aaa094" stroke-opacity="0.36" stroke-width="0.95"/>
<line x1="169.25" y1="86.75" x2="177" y2="115.75" stroke="#aaa094" stroke-opacity="0.36" stroke-width="0.95"/>
<line x1="169.25" y1="86.75" x2="69.5" y2="145.5" stroke="#aaa094" stroke-opacity="0.36" stroke-width="0.95"/>
<line x1="169.25" y1="86.75" x2="90.5" y2="165.5" stroke="#aaa094" stroke-opacity="0.36" stroke-width="0.95"/>
<line x1="169.25" y1="86.75" x2="119.25" y2="174.25" stroke="#aaa094" stroke-opacity="0.36" stroke-width="0.95"/>
<line x1="121.5" y1="99.5" x2="106.5" y2="107.5" stroke="#aaa094" stroke-opacity="0.36" stroke-width="0.95"/>
<line x1="121.5" y1="99.5" x2="61.25" y2="116.25" stroke="#aaa094" stroke-opacity="0.36" stroke-width="0.95"/>
<line x1="121.5" y1="99.5" x2="107" y2="125" stroke="#aaa094" stroke-opacity="0.36" stroke-width="0.95"/>
<line x1="121.5" y1="99.5" x2="136.25" y2="125" stroke="#aaa094" stroke-opacity="0.36" stroke-width="0.95"/>
<line x1="121.5" y1="99.5" x2="122.25" y2="133.5" stroke="#aaa094" stroke-opacity="0.36" stroke-width="0.95"/>
<line x1="121.5" y1="99.5" x2="69.5" y2="145.5" stroke="#aaa094" stroke-opacity="0.36" stroke-width="0.95"/>
<line x1="121.5" y1="99.5" x2="35" y2="151.25" stroke="#aaa094" stroke-opacity="0.36" stroke-width="0.95"/>
<line x1="121.5" y1="99.5" x2="54.75" y2="182.2" stroke="#aaa094" stroke-opacity="0.36" stroke-width="0.95"/>
<line x1="121.5" y1="99.5" x2="155.4" y2="201.5" stroke="#aaa094" stroke-opacity="0.36" stroke-width="0.95"/>
<line x1="106.5" y1="107.5" x2="27.5" y2="116.25" stroke="#aaa094" stroke-opacity="0.36" stroke-width="0.95"/>
<line x1="106.5" y1="107.5" x2="107" y2="125" stroke="#aaa094" stroke-opacity="0.36" stroke-width="0.95"/>
<line x1="106.5" y1="107.5" x2="136.25" y2="125" stroke="#aaa094" stroke-opacity="0.36" stroke-width="0.95"/>
<line x1="106.5" y1="107.5" x2="35" y2="151.25" stroke="#aaa094" stroke-opacity="0.36" stroke-width="0.95"/>
<line x1="106.5" y1="107.5" x2="90.5" y2="165.5" stroke="#aaa094" stroke-opacity="0.36" stroke-width="0.95"/>
<line x1="106.5" y1="107.5" x2="54.75" y2="182.2" stroke="#aaa094" stroke-opacity="0.36" stroke-width="0.95"/>
<line x1="106.5" y1="107.5" x2="84.8" y2="201.5" stroke="#aaa094" stroke-opacity="0.36" stroke-width="0.95"/>
<line x1="136.25" y1="108" x2="61.25" y2="116.25" stroke="#aaa094" stroke-opacity="0.36" stroke-width="0.95"/>
<line x1="136.25" y1="108" x2="136.25" y2="125" stroke="#aaa094" stroke-opacity="0.36" stroke-width="0.95"/>
<line x1="136.25" y1="108" x2="148.75" y2="166.25" stroke="#aaa094" stroke-opacity="0.36" stroke-width="0.95"/>
<line x1="136.25" y1="108" x2="155.4" y2="201.5" stroke="#aaa094" stroke-opacity="0.36" stroke-width="0.95"/>
<line x1="27.5" y1="116.25" x2="177" y2="115.75" stroke="#aaa094" stroke-opacity="0.36" stroke-width="0.95"/>
<line x1="27.5" y1="116.25" x2="136.25" y2="125" stroke="#aaa094" stroke-opacity="0.36" stroke-width="0.95"/>
<line x1="27.5" y1="116.25" x2="69.5" y2="145.5" stroke="#aaa094" stroke-opacity="0.36" stroke-width="0.95"/>
<line x1="27.5" y1="116.25" x2="35" y2="151.25" stroke="#aaa094" stroke-opacity="0.36" stroke-width="0.95"/>
<line x1="27.5" y1="116.25" x2="119.25" y2="174.25" stroke="#aaa094" stroke-opacity="0.36" stroke-width="0.95"/>
<line x1="61.25" y1="116.25" x2="107" y2="125" stroke="#aaa094" stroke-opacity="0.36" stroke-width="0.95"/>
<line x1="61.25" y1="116.25" x2="136.25" y2="125" stroke="#aaa094" stroke-opacity="0.36" stroke-width="0.95"/>
<line x1="61.25" y1="116.25" x2="90.5" y2="165.5" stroke="#aaa094" stroke-opacity="0.36" stroke-width="0.95"/>
<line x1="61.25" y1="116.25" x2="148.75" y2="166.25" stroke="#aaa094" stroke-opacity="0.36" stroke-width="0.95"/>
<line x1="61.25" y1="116.25" x2="119.25" y2="174.25" stroke="#aaa094" stroke-opacity="0.36" stroke-width="0.95"/>
<line x1="61.25" y1="116.25" x2="54.75" y2="182.2" stroke="#aaa094" stroke-opacity="0.36" stroke-width="0.95"/>
<line x1="177" y1="115.75" x2="213" y2="116.25" stroke="#aaa094" stroke-opacity="0.36" stroke-width="0.95"/>
<line x1="177" y1="115.75" x2="69.5" y2="145.5" stroke="#aaa094" stroke-opacity="0.36" stroke-width="0.95"/>
<line x1="177" y1="115.75" x2="35" y2="151.25" stroke="#aaa094" stroke-opacity="0.36" stroke-width="0.95"/>
<line x1="177" y1="115.75" x2="90.5" y2="165.5" stroke="#aaa094" stroke-opacity="0.36" stroke-width="0.95"/>
<line x1="177" y1="115.75" x2="148.75" y2="166.25" stroke="#aaa094" stroke-opacity="0.36" stroke-width="0.95"/>
<line x1="213" y1="116.25" x2="107" y2="125" stroke="#aaa094" stroke-opacity="0.36" stroke-width="0.95"/>
<line x1="213" y1="116.25" x2="90.5" y2="165.5" stroke="#aaa094" stroke-opacity="0.36" stroke-width="0.95"/>
<line x1="213" y1="116.25" x2="148.75" y2="166.25" stroke="#aaa094" stroke-opacity="0.36" stroke-width="0.95"/>
<line x1="107" y1="125" x2="69.5" y2="145.5" stroke="#aaa094" stroke-opacity="0.36" stroke-width="0.95"/>
<line x1="107" y1="125" x2="90.5" y2="165.5" stroke="#aaa094" stroke-opacity="0.36" stroke-width="0.95"/>
<line x1="136.25" y1="125" x2="122.25" y2="133.5" stroke="#aaa094" stroke-opacity="0.36" stroke-width="0.95"/>
<line x1="136.25" y1="125" x2="169.5" y2="144.5" stroke="#aaa094" stroke-opacity="0.36" stroke-width="0.95"/>
<line x1="136.25" y1="125" x2="35" y2="151.25" stroke="#aaa094" stroke-opacity="0.36" stroke-width="0.95"/>
<line x1="136.25" y1="125" x2="206.25" y2="152" stroke="#aaa094" stroke-opacity="0.36" stroke-width="0.95"/>
<line x1="136.25" y1="125" x2="90.5" y2="165.5" stroke="#aaa094" stroke-opacity="0.36" stroke-width="0.95"/>
<line x1="136.25" y1="125" x2="119.25" y2="174.25" stroke="#aaa094" stroke-opacity="0.36" stroke-width="0.95"/>
<line x1="136.25" y1="125" x2="54.75" y2="182.2" stroke="#aaa094" stroke-opacity="0.36" stroke-width="0.95"/>
<line x1="122.25" y1="133.5" x2="90.5" y2="165.5" stroke="#aaa094" stroke-opacity="0.36" stroke-width="0.95"/>
<line x1="122.25" y1="133.5" x2="148.75" y2="166.25" stroke="#aaa094" stroke-opacity="0.36" stroke-width="0.95"/>
<line x1="122.25" y1="133.5" x2="54.75" y2="182.2" stroke="#aaa094" stroke-opacity="0.36" stroke-width="0.95"/>
<line x1="122.25" y1="133.5" x2="84.8" y2="201.5" stroke="#aaa094" stroke-opacity="0.36" stroke-width="0.95"/>
<line x1="69.5" y1="145.5" x2="90.5" y2="165.5" stroke="#aaa094" stroke-opacity="0.36" stroke-width="0.95"/>
<line x1="69.5" y1="145.5" x2="148.75" y2="166.25" stroke="#aaa094" stroke-opacity="0.36" stroke-width="0.95"/>
<line x1="69.5" y1="145.5" x2="84.8" y2="201.5" stroke="#aaa094" stroke-opacity="0.36" stroke-width="0.95"/>
<line x1="169.5" y1="144.5" x2="35" y2="151.25" stroke="#aaa094" stroke-opacity="0.36" stroke-width="0.95"/>
<line x1="169.5" y1="144.5" x2="90.5" y2="165.5" stroke="#aaa094" stroke-opacity="0.36" stroke-width="0.95"/>
<line x1="169.5" y1="144.5" x2="119.25" y2="174.25" stroke="#aaa094" stroke-opacity="0.36" stroke-width="0.95"/>
<line x1="169.5" y1="144.5" x2="155.4" y2="201.5" stroke="#aaa094" stroke-opacity="0.36" stroke-width="0.95"/>
<line x1="35" y1="151.25" x2="90.5" y2="165.5" stroke="#aaa094" stroke-opacity="0.36" stroke-width="0.95"/>
<line x1="35" y1="151.25" x2="119.25" y2="174.25" stroke="#aaa094" stroke-opacity="0.36" stroke-width="0.95"/>
<line x1="206.25" y1="152" x2="186" y2="182.2" stroke="#aaa094" stroke-opacity="0.36" stroke-width="0.95"/>
<line x1="90.5" y1="165.5" x2="119.25" y2="174.25" stroke="#aaa094" stroke-opacity="0.36" stroke-width="0.95"/>
<line x1="119.25" y1="174.25" x2="186" y2="182.2" stroke="#aaa094" stroke-opacity="0.36" stroke-width="0.95"/>
</g>
<circle cx="85.75" cy="31.75" r="5.5" fill="#9468b4"/>
<circle cx="121.25" cy="24.25" r="5.5" fill="#9468b4"/>
<circle cx="156.25" cy="31.25" r="5.5" fill="#9468b4"/>
<circle cx="54.5" cy="51.25" r="5.0" fill="#9468b4"/>
<circle cx="186.75" cy="51.25" r="5.5" fill="#9468b4"/>
<circle cx="118.75" cy="57.5" r="6.5" fill="#9468b4"/>
<circle cx="88" cy="65.5" r="7" fill="#9468b4"/>
<circle cx="147.5" cy="65.5" r="7" fill="#9468b4"/>
<circle cx="35" cy="80.75" r="6" fill="#9468b4"/>
<circle cx="206.25" cy="81.25" r="5" fill="#9468b4"/>
<circle cx="68.75" cy="87" r="7" fill="#9468b4"/>
<circle cx="169.25" cy="86.75" r="7" fill="#9468b4"/>
<circle cx="121.5" cy="99.5" r="6.5" fill="#9468b4"/>
<circle cx="106.5" cy="107.5" r="7" fill="#9468b4"/>
<circle cx="136.25" cy="108" r="7" fill="#9468b4"/>
<circle cx="27.5" cy="116.25" r="6.5" fill="#9468b4"/>
<circle cx="61.25" cy="116.25" r="7" fill="#9468b4"/>
<circle cx="177" cy="115.75" r="7" fill="#9468b4"/>
<circle cx="213" cy="116.25" r="5" fill="#9468b4"/>
<circle cx="107" cy="125" r="7" fill="#9468b4"/>
<circle cx="136.25" cy="125" r="7" fill="#9468b4"/>
<circle cx="122.25" cy="133.5" r="7" fill="#9468b4"/>
<circle cx="69.5" cy="145.5" r="7" fill="#9468b4"/>
<circle cx="169.5" cy="144.5" r="7" fill="#9468b4"/>
<circle cx="35" cy="151.25" r="6" fill="#9468b4"/>
<circle cx="206.25" cy="152" r="5" fill="#9468b4"/>
<circle cx="90.5" cy="165.5" r="7" fill="#9468b4"/>
<circle cx="148.75" cy="166.25" r="7" fill="#9468b4"/>
<circle cx="119.25" cy="174.25" r="6.5" fill="#9468b4"/>
<circle cx="54.75" cy="182.2" r="6" fill="#9468b4"/>
<circle cx="186" cy="182.2" r="4.5" fill="#9468b4"/>
<circle cx="84.8" cy="201.5" r="6" fill="#9468b4"/>
<circle cx="155.4" cy="201.5" r="4.5" fill="#9468b4"/>
<circle cx="120.6" cy="209.4" r="4.5" fill="#9468b4"/>
<text x="85.75" y="34.72" font-size="6.3" text-anchor="middle" fill="rgba(30,18,38,0.88)" font-weight="normal"  stroke="none">DHX37</text>
<text x="121.25" y="27.22" font-size="6.3" text-anchor="middle" fill="rgba(30,18,38,0.88)" font-weight="normal"  stroke="none">MYBBP1A</text>
<text x="156.25" y="34.22" font-size="6.3" text-anchor="middle" fill="rgba(30,18,38,0.88)" font-weight="normal"  stroke="none">DDX51</text>
<text x="54.50" y="54.22" font-size="6.3" text-anchor="middle" fill="rgba(30,18,38,0.88)" font-weight="normal"  stroke="none">NHP2</text>
<text x="186.75" y="54.22" font-size="6.3" text-anchor="middle" fill="rgba(30,18,38,0.88)" font-weight="normal"  stroke="none">RRP1B</text>
<text x="118.75" y="60.47" font-size="6.3" text-anchor="middle" fill="rgba(30,18,38,0.88)" font-weight="normal"  stroke="none">DDX10</text>
<text x="88.00" y="68.47" font-size="6.3" text-anchor="middle" fill="rgba(30,18,38,0.88)" font-weight="normal"  stroke="none">GTPBP4</text>
<text x="147.50" y="68.47" font-size="6.3" text-anchor="middle" fill="rgba(30,18,38,0.88)" font-weight="normal"  stroke="none">RRS1</text>
<text x="35.00" y="83.72" font-size="6.3" text-anchor="middle" fill="rgba(30,18,38,0.88)" font-weight="normal"  stroke="none">UTP14A</text>
<text x="206.25" y="84.22" font-size="6.3" text-anchor="middle" fill="rgba(30,18,38,0.88)" font-weight="normal"  stroke="none">PPAN</text>
<text x="68.75" y="89.97" font-size="6.3" text-anchor="middle" fill="rgba(30,18,38,0.88)" font-weight="normal"  stroke="none">POLR1B</text>
<text x="169.25" y="89.72" font-size="6.3" text-anchor="middle" fill="rgba(30,18,38,0.88)" font-weight="normal"  stroke="none">RRP12</text>
<text x="121.50" y="102.47" font-size="6.3" text-anchor="middle" fill="rgba(30,18,38,0.88)" font-weight="normal"  stroke="none">NAT10</text>
<text x="106.50" y="110.47" font-size="6.3" text-anchor="middle" fill="rgba(30,18,38,0.88)" font-weight="normal"  stroke="none">WDR43</text>
<text x="136.25" y="110.97" font-size="6.3" text-anchor="middle" fill="rgba(30,18,38,0.88)" font-weight="normal"  stroke="none">WDR12</text>
<text x="27.50" y="119.22" font-size="6.3" text-anchor="middle" fill="rgba(30,18,38,0.88)" font-weight="normal"  stroke="none">FBL</text>
<text x="61.25" y="119.22" font-size="6.3" text-anchor="middle" fill="rgba(30,18,38,0.88)" font-weight="normal"  stroke="none">RSL1D1</text>
<text x="177.00" y="118.72" font-size="6.3" text-anchor="middle" fill="rgba(30,18,38,0.88)" font-weight="normal"  stroke="none">WDR46</text>
<text x="213.00" y="119.22" font-size="6.3" text-anchor="middle" fill="rgba(30,18,38,0.88)" font-weight="normal"  stroke="none">NOLC1</text>
<text x="107.00" y="127.97" font-size="6.3" text-anchor="middle" fill="rgba(30,18,38,0.88)" font-weight="normal"  stroke="none">BOP1</text>
<text x="136.25" y="127.97" font-size="6.3" text-anchor="middle" fill="rgba(30,18,38,0.88)" font-weight="normal"  stroke="none">NOC2L</text>
<text x="122.25" y="136.47" font-size="6.3" text-anchor="middle" fill="rgba(30,18,38,0.88)" font-weight="normal"  stroke="none">WDR3</text>
<text x="69.50" y="148.47" font-size="6.3" text-anchor="middle" fill="rgba(30,18,38,0.88)" font-weight="normal"  stroke="none">TBL3</text>
<text x="169.50" y="147.47" font-size="6.3" text-anchor="middle" fill="rgba(30,18,38,0.88)" font-weight="normal"  stroke="none">NOL6</text>
<text x="35.00" y="154.22" font-size="6.3" text-anchor="middle" fill="rgba(30,18,38,0.88)" font-weight="normal"  stroke="none">POLR1A</text>
<text x="206.25" y="154.97" font-size="6.3" text-anchor="middle" fill="rgba(30,18,38,0.88)" font-weight="normal"  stroke="none">UTP20</text>
<text x="90.50" y="168.47" font-size="6.3" text-anchor="middle" fill="rgba(30,18,38,0.88)" font-weight="normal"  stroke="none">NOP2</text>
<text x="148.75" y="169.22" font-size="6.3" text-anchor="middle" fill="rgba(30,18,38,0.88)" font-weight="normal"  stroke="none">MRTO4</text>
<text x="119.25" y="177.22" font-size="6.3" text-anchor="middle" fill="rgba(30,18,38,0.88)" font-weight="normal"  stroke="none">EBNA1BP2</text>
<text x="54.75" y="185.17" font-size="6.3" text-anchor="middle" fill="rgba(30,18,38,0.88)" font-weight="normal"  stroke="none">DKC1</text>
<text x="186.00" y="185.17" font-size="6.3" text-anchor="middle" fill="rgba(30,18,38,0.88)" font-weight="normal"  stroke="none">LYAR</text>
<text x="84.80" y="204.47" font-size="6.3" text-anchor="middle" fill="rgba(30,18,38,0.88)" font-weight="normal"  stroke="none">HEATR1</text>
<text x="155.40" y="204.47" font-size="6.3" text-anchor="middle" fill="rgba(30,18,38,0.88)" font-weight="normal"  stroke="none">DHX33</text>
<text x="120.60" y="212.37" font-size="6.3" text-anchor="middle" fill="rgba(30,18,38,0.88)" font-weight="normal"  stroke="none">NSUN2</text>
<text x="7.00" y="15.61" font-size="10.5" text-anchor="start" fill="#111" font-weight="bold" stroke="#111" stroke-width="0.08" >H</text>
<text x="238.00" y="18.61" font-size="10.5" text-anchor="start" fill="#111" font-weight="bold" stroke="#111" stroke-width="0.08" >I</text>
<rect x="275.4" y="31.3" width="94.40000000000003" height="82.7" fill="none" stroke="#222" stroke-width="1"/>
<line x1="272.4" y1="39.00" x2="275.4" y2="39.00" stroke="#222" stroke-width="0.8"/>
<text x="269.40" y="41.06" font-size="6" text-anchor="end" fill="#222" font-weight="normal" stroke="#222" stroke-width="0.08" >GAS6</text>
<circle cx="366.3" cy="39.00" r="1.25" fill="none" stroke="#6e6478" stroke-width="0.7"/>
<line x1="272.4" y1="46.42" x2="275.4" y2="46.42" stroke="#222" stroke-width="0.8"/>
<text x="269.40" y="48.48" font-size="6" text-anchor="end" fill="#222" font-weight="normal" stroke="#222" stroke-width="0.08" >HAPLN3</text>
<circle cx="359.2" cy="46.42" r="1.25" fill="none" stroke="#6e6478" stroke-width="0.7"/>
<line x1="272.4" y1="53.84" x2="275.4" y2="53.84" stroke="#222" stroke-width="0.8"/>
<text x="269.40" y="55.90" font-size="6" text-anchor="end" fill="#222" font-weight="normal" stroke="#222" stroke-width="0.08" >ABCB9</text>
<circle cx="359.2" cy="53.84" r="1.25" fill="none" stroke="#6e6478" stroke-width="0.7"/>
<line x1="272.4" y1="61.26" x2="275.4" y2="61.26" stroke="#222" stroke-width="0.8"/>
<text x="269.40" y="63.32" font-size="6" text-anchor="end" fill="#222" font-weight="normal" stroke="#222" stroke-width="0.08" >GMDS</text>
<circle cx="356.5" cy="61.26" r="1.25" fill="none" stroke="#6e6478" stroke-width="0.7"/>
<line x1="272.4" y1="68.68" x2="275.4" y2="68.68" stroke="#222" stroke-width="0.8"/>
<text x="269.40" y="70.74" font-size="6" text-anchor="end" fill="#222" font-weight="normal" stroke="#222" stroke-width="0.08" >ARPC1B</text>
<circle cx="278.8" cy="68.68" r="1.25" fill="none" stroke="#6e6478" stroke-width="0.7"/>
<line x1="272.4" y1="76.10" x2="275.4" y2="76.10" stroke="#222" stroke-width="0.8"/>
<text x="269.40" y="78.16" font-size="6" text-anchor="end" fill="#222" font-weight="normal" stroke="#222" stroke-width="0.08" >FTL</text>
<circle cx="278.8" cy="76.10" r="1.25" fill="none" stroke="#6e6478" stroke-width="0.7"/>
<line x1="272.4" y1="83.52" x2="275.4" y2="83.52" stroke="#222" stroke-width="0.8"/>
<text x="269.40" y="85.58" font-size="6" text-anchor="end" fill="#222" font-weight="normal" stroke="#222" stroke-width="0.08" >RAB15</text>
<circle cx="278.8" cy="83.52" r="1.25" fill="none" stroke="#6e6478" stroke-width="0.7"/>
<line x1="272.4" y1="90.94" x2="275.4" y2="90.94" stroke="#222" stroke-width="0.8"/>
<text x="269.40" y="93.00" font-size="6" text-anchor="end" fill="#222" font-weight="normal" stroke="#222" stroke-width="0.08" >NEU1</text>
<circle cx="278.8" cy="90.94" r="1.25" fill="none" stroke="#6e6478" stroke-width="0.7"/>
<line x1="272.4" y1="98.36" x2="275.4" y2="98.36" stroke="#222" stroke-width="0.8"/>
<text x="269.40" y="100.42" font-size="6" text-anchor="end" fill="#222" font-weight="normal" stroke="#222" stroke-width="0.08" >PODXL2</text>
<circle cx="278.8" cy="98.36" r="1.25" fill="none" stroke="#6e6478" stroke-width="0.7"/>
<line x1="272.4" y1="105.78" x2="275.4" y2="105.78" stroke="#222" stroke-width="0.8"/>
<text x="269.40" y="107.84" font-size="6" text-anchor="end" fill="#222" font-weight="normal" stroke="#222" stroke-width="0.08" >PFN1</text>
<circle cx="278.8" cy="105.78" r="1.25" fill="none" stroke="#6e6478" stroke-width="0.7"/>
<line x1="286.9" y1="114" x2="286.9" y2="117" stroke="#222" stroke-width="0.8"/>
<text x="286.90" y="124.56" font-size="6" text-anchor="middle" fill="#222" font-weight="normal" stroke="#222" stroke-width="0.08" >1.45</text>
<line x1="300.8" y1="114" x2="300.8" y2="117" stroke="#222" stroke-width="0.8"/>
<line x1="314.6" y1="114" x2="314.6" y2="117" stroke="#222" stroke-width="0.8"/>
<text x="314.60" y="124.56" font-size="6" text-anchor="middle" fill="#222" font-weight="normal" stroke="#222" stroke-width="0.08" >1.55</text>
<line x1="328.5" y1="114" x2="328.5" y2="117" stroke="#222" stroke-width="0.8"/>
<line x1="342.3" y1="114" x2="342.3" y2="117" stroke="#222" stroke-width="0.8"/>
<text x="342.30" y="124.56" font-size="6" text-anchor="middle" fill="#222" font-weight="normal" stroke="#222" stroke-width="0.08" >1.65</text>
<line x1="356.1" y1="114" x2="356.1" y2="117" stroke="#222" stroke-width="0.8"/>
<line x1="369.8" y1="114" x2="369.8" y2="117" stroke="#222" stroke-width="0.8"/>
<text x="369.80" y="124.56" font-size="6" text-anchor="middle" fill="#222" font-weight="normal" stroke="#222" stroke-width="0.08" >1.75</text>
<text x="322.60" y="135.55" font-size="8" text-anchor="middle" fill="#222" font-weight="normal"  stroke="#222" stroke-width="0.25" textLength="61" lengthAdjust="spacingAndGlyphs">Mean decrease accuracy</text>
<rect x="420.3" y="31.4" width="90.09999999999997" height="81.9" fill="none" stroke="#222" stroke-width="1"/>
<line x1="417.3" y1="39.00" x2="420.3" y2="39.00" stroke="#222" stroke-width="0.8"/>
<text x="414.30" y="41.06" font-size="6" text-anchor="end" fill="#222" font-weight="normal" stroke="#222" stroke-width="0.08" >ZNF593</text>
<circle cx="506.5" cy="39.00" r="1.25" fill="none" stroke="#6e6478" stroke-width="0.7"/>
<line x1="417.3" y1="46.42" x2="420.3" y2="46.42" stroke="#222" stroke-width="0.8"/>
<text x="414.30" y="48.48" font-size="6" text-anchor="end" fill="#222" font-weight="normal" stroke="#222" stroke-width="0.08" >HNRNPDL</text>
<circle cx="503" cy="46.42" r="1.25" fill="none" stroke="#6e6478" stroke-width="0.7"/>
<line x1="417.3" y1="53.84" x2="420.3" y2="53.84" stroke="#222" stroke-width="0.8"/>
<text x="414.30" y="55.90" font-size="6" text-anchor="end" fill="#222" font-weight="normal" stroke="#222" stroke-width="0.08" >PRR5</text>
<circle cx="499" cy="53.84" r="1.25" fill="none" stroke="#6e6478" stroke-width="0.7"/>
<line x1="417.3" y1="61.26" x2="420.3" y2="61.26" stroke="#222" stroke-width="0.8"/>
<text x="414.30" y="63.32" font-size="6" text-anchor="end" fill="#222" font-weight="normal" stroke="#222" stroke-width="0.08" >C11orf24</text>
<circle cx="487.3" cy="61.26" r="1.25" fill="none" stroke="#6e6478" stroke-width="0.7"/>
<line x1="417.3" y1="68.68" x2="420.3" y2="68.68" stroke="#222" stroke-width="0.8"/>
<text x="414.30" y="70.74" font-size="6" text-anchor="end" fill="#222" font-weight="normal" stroke="#222" stroke-width="0.08" >DKC1</text>
<circle cx="485.6" cy="68.68" r="1.25" fill="none" stroke="#6e6478" stroke-width="0.7"/>
<line x1="417.3" y1="76.10" x2="420.3" y2="76.10" stroke="#222" stroke-width="0.8"/>
<text x="414.30" y="78.16" font-size="6" text-anchor="end" fill="#222" font-weight="normal" stroke="#222" stroke-width="0.08" >F2R</text>
<circle cx="483.4" cy="76.10" r="1.25" fill="none" stroke="#6e6478" stroke-width="0.7"/>
<line x1="417.3" y1="83.52" x2="420.3" y2="83.52" stroke="#222" stroke-width="0.8"/>
<text x="414.30" y="85.58" font-size="6" text-anchor="end" fill="#222" font-weight="normal" stroke="#222" stroke-width="0.08" >PCNA</text>
<circle cx="483.4" cy="83.52" r="1.25" fill="none" stroke="#6e6478" stroke-width="0.7"/>
<line x1="417.3" y1="90.94" x2="420.3" y2="90.94" stroke="#222" stroke-width="0.8"/>
<text x="414.30" y="93.00" font-size="6" text-anchor="end" fill="#222" font-weight="normal" stroke="#222" stroke-width="0.08" >UTP14A</text>
<circle cx="483.4" cy="90.94" r="1.25" fill="none" stroke="#6e6478" stroke-width="0.7"/>
<line x1="417.3" y1="98.36" x2="420.3" y2="98.36" stroke="#222" stroke-width="0.8"/>
<text x="414.30" y="100.42" font-size="6" text-anchor="end" fill="#222" font-weight="normal" stroke="#222" stroke-width="0.08" >PODXL2</text>
<circle cx="481.3" cy="98.36" r="1.25" fill="none" stroke="#6e6478" stroke-width="0.7"/>
<line x1="417.3" y1="105.78" x2="420.3" y2="105.78" stroke="#222" stroke-width="0.8"/>
<text x="414.30" y="107.84" font-size="6" text-anchor="end" fill="#222" font-weight="normal" stroke="#222" stroke-width="0.08" >EPHB6</text>
<circle cx="475.8" cy="105.78" r="1.25" fill="none" stroke="#6e6478" stroke-width="0.7"/>
<line x1="423.8" y1="113.3" x2="423.8" y2="116.3" stroke="#222" stroke-width="0.8"/>
<text x="423.80" y="124.56" font-size="6" text-anchor="middle" fill="#222" font-weight="normal" stroke="#222" stroke-width="0.08" >0.000</text>
<line x1="438.2" y1="113.3" x2="438.2" y2="116.3" stroke="#222" stroke-width="0.8"/>
<line x1="452.6" y1="113.3" x2="452.6" y2="116.3" stroke="#222" stroke-width="0.8"/>
<text x="452.60" y="124.56" font-size="6" text-anchor="middle" fill="#222" font-weight="normal" stroke="#222" stroke-width="0.08" >0.010</text>
<line x1="467.0" y1="113.3" x2="467.0" y2="116.3" stroke="#222" stroke-width="0.8"/>
<line x1="481.4" y1="113.3" x2="481.4" y2="116.3" stroke="#222" stroke-width="0.8"/>
<text x="481.40" y="124.56" font-size="6" text-anchor="middle" fill="#222" font-weight="normal" stroke="#222" stroke-width="0.08" >0.020</text>
<line x1="495.8" y1="113.3" x2="495.8" y2="116.3" stroke="#222" stroke-width="0.8"/>
<text x="465.35" y="135.55" font-size="8" text-anchor="middle" fill="#222" font-weight="normal"  stroke="#222" stroke-width="0.25" textLength="48" lengthAdjust="spacingAndGlyphs">Mean decrease gini</text>
<text x="369.60" y="162.81" font-size="10.5" text-anchor="start" fill="#111" font-weight="bold" stroke="#111" stroke-width="0.08" >J</text>
<ellipse cx="421.7" cy="224.0" rx="52.1" ry="35.3" transform="rotate(45 421.7 224.0)" fill="#e866b6" fill-opacity="0.4" stroke="none"/>
<ellipse cx="439.2" cy="206.2" rx="53.6" ry="34.1" transform="rotate(45 439.2 206.2)" fill="#f2a63a" fill-opacity="0.4" stroke="none"/>
<ellipse cx="445.0" cy="206.2" rx="53.6" ry="34.1" transform="rotate(-45 445.0 206.2)" fill="#93c473" fill-opacity="0.4" stroke="none"/>
<ellipse cx="461.4" cy="224.3" rx="53.6" ry="35.3" transform="rotate(-45 461.4 224.3)" fill="#84b0e6" fill-opacity="0.4" stroke="none"/>
<ellipse cx="421.7" cy="224.0" rx="52.1" ry="35.3" transform="rotate(45 421.7 224.0)" fill="none" stroke="#7a4a6a" stroke-width="0.95"/>
<ellipse cx="439.2" cy="206.2" rx="53.6" ry="34.1" transform="rotate(45 439.2 206.2)" fill="none" stroke="#806040" stroke-width="0.95"/>
<ellipse cx="445.0" cy="206.2" rx="53.6" ry="34.1" transform="rotate(-45 445.0 206.2)" fill="none" stroke="#4d6a48" stroke-width="0.95"/>
<ellipse cx="461.4" cy="224.3" rx="53.6" ry="35.3" transform="rotate(-45 461.4 224.3)" fill="none" stroke="#4d6680" stroke-width="0.95"/>
<text x="416.00" y="172.47" font-size="6.3" text-anchor="middle" fill="rgba(22,8,22,0.9)" font-weight="normal"  stroke="rgba(22,8,22,0.7)" stroke-width="0.25">0</text>
<text x="466.00" y="172.47" font-size="6.3" text-anchor="middle" fill="rgba(22,8,22,0.9)" font-weight="normal"  stroke="rgba(22,8,22,0.7)" stroke-width="0.25">0</text>
<text x="442.00" y="182.47" font-size="6.3" text-anchor="middle" fill="rgba(22,8,22,0.9)" font-weight="normal"  stroke="rgba(22,8,22,0.7)" stroke-width="0.25">1</text>
<text x="404.00" y="190.47" font-size="6.3" text-anchor="middle" fill="rgba(22,8,22,0.9)" font-weight="normal"  stroke="rgba(22,8,22,0.7)" stroke-width="0.25">0</text>
<text x="480.00" y="192.47" font-size="6.3" text-anchor="middle" fill="rgba(22,8,22,0.9)" font-weight="normal"  stroke="rgba(22,8,22,0.7)" stroke-width="0.25">0</text>
<text x="388.50" y="209.97" font-size="6.3" text-anchor="middle" fill="rgba(22,8,22,0.9)" font-weight="normal"  stroke="rgba(22,8,22,0.7)" stroke-width="0.25">236</text>
<text x="495.00" y="213.27" font-size="6.3" text-anchor="middle" fill="rgba(22,8,22,0.9)" font-weight="normal"  stroke="rgba(22,8,22,0.7)" stroke-width="0.25">1</text>
<text x="418.00" y="209.97" font-size="6.3" text-anchor="middle" fill="rgba(22,8,22,0.9)" font-weight="normal"  stroke="rgba(22,8,22,0.7)" stroke-width="0.25">24</text>
<text x="466.00" y="209.47" font-size="6.3" text-anchor="middle" fill="rgba(22,8,22,0.9)" font-weight="normal"  stroke="rgba(22,8,22,0.7)" stroke-width="0.25">0</text>
<text x="442.70" y="225.67" font-size="6.3" text-anchor="middle" fill="rgba(22,8,22,0.9)" font-weight="normal"  stroke="rgba(22,8,22,0.7)" stroke-width="0.25">9</text>
<text x="406.30" y="235.17" font-size="6.3" text-anchor="middle" fill="rgba(22,8,22,0.9)" font-weight="normal"  stroke="rgba(22,8,22,0.7)" stroke-width="0.25">14</text>
<text x="475.00" y="236.07" font-size="6.3" text-anchor="middle" fill="rgba(22,8,22,0.9)" font-weight="normal"  stroke="rgba(22,8,22,0.7)" stroke-width="0.25">0</text>
<text x="422.00" y="247.47" font-size="6.3" text-anchor="middle" fill="rgba(22,8,22,0.9)" font-weight="normal"  stroke="rgba(22,8,22,0.7)" stroke-width="0.25">2</text>
<text x="459.00" y="248.47" font-size="6.3" text-anchor="middle" fill="rgba(22,8,22,0.9)" font-weight="normal"  stroke="rgba(22,8,22,0.7)" stroke-width="0.25">0</text>
<text x="440.00" y="262.47" font-size="6.3" text-anchor="middle" fill="rgba(22,8,22,0.9)" font-weight="normal"  stroke="rgba(22,8,22,0.7)" stroke-width="0.25">68</text>
<text x="401.50" y="159.24" font-size="6.5" text-anchor="middle" fill="#333" font-weight="normal" stroke="#333" stroke-width="0.08" >MCODE</text>
<text x="469.50" y="157.24" font-size="6.5" text-anchor="middle" fill="#333" font-weight="normal" stroke="#333" stroke-width="0.08" >Cytohubba</text>
<text x="383.50" y="251.44" font-size="6.5" text-anchor="middle" fill="#333" font-weight="normal" stroke="#333" stroke-width="0.08" >PCA</text>
<text x="497.00" y="258.24" font-size="6.5" text-anchor="middle" fill="#333" font-weight="normal" stroke="#333" stroke-width="0.08" >Random</text>
<text x="497.00" y="265.74" font-size="6.5" text-anchor="middle" fill="#333" font-weight="normal" stroke="#333" stroke-width="0.08" >forest</text>
<line x1="441.8" y1="237" x2="452.7" y2="275.5" stroke="#333" stroke-width="0.75"/>
<path d="M453.9 279.6 L450.6 273.7 L455.2 272.6 Z" fill="#333"/>
<rect x="431.6" y="281.6" width="54.4" height="69.9" rx="7" ry="7" fill="#fff" stroke="#333" stroke-width="0.8"/>
<text x="446.60" y="288.64" font-size="6.5" text-anchor="start" fill="#222" font-weight="normal"  stroke="#222" stroke-width="0.14">TBL3</text>
<path d="M463.74 284.10 V287.60" stroke="#333" stroke-width="0.7" fill="none"/>
<path d="M462.34 286.70 L463.74 288.80 L465.14 286.70 Z" fill="#333"/>
<text x="446.60" y="296.32" font-size="6.5" text-anchor="start" fill="#222" font-weight="normal"  stroke="#222" stroke-width="0.14">WDR3</text>
<path d="M467.34 291.78 V295.28" stroke="#333" stroke-width="0.7" fill="none"/>
<path d="M465.94 294.38 L467.34 296.48 L468.74 294.38 Z" fill="#333"/>
<text x="446.60" y="304.00" font-size="6.5" text-anchor="start" fill="#222" font-weight="normal"  stroke="#222" stroke-width="0.14">RSL1D1</text>
<path d="M472.77 299.46 V302.96" stroke="#333" stroke-width="0.7" fill="none"/>
<path d="M471.37 302.06 L472.77 304.16 L474.17 302.06 Z" fill="#333"/>
<text x="446.60" y="311.68" font-size="6.5" text-anchor="start" fill="#222" font-weight="normal"  stroke="#222" stroke-width="0.14">WDR43</text>
<path d="M470.95 307.14 V310.64" stroke="#333" stroke-width="0.7" fill="none"/>
<path d="M469.55 309.74 L470.95 311.84 L472.35 309.74 Z" fill="#333"/>
<text x="446.60" y="319.36" font-size="6.5" text-anchor="start" fill="#222" font-weight="normal"  stroke="#222" stroke-width="0.14">WDR12</text>
<path d="M470.95 314.82 V318.32" stroke="#333" stroke-width="0.7" fill="none"/>
<path d="M469.55 317.42 L470.95 319.52 L472.35 317.42 Z" fill="#333"/>
<text x="446.60" y="327.04" font-size="6.5" text-anchor="start" fill="#222" font-weight="normal"  stroke="#222" stroke-width="0.14">GTPBP4</text>
<path d="M473.85 322.50 V326.00" stroke="#333" stroke-width="0.7" fill="none"/>
<path d="M472.45 325.10 L473.85 327.20 L475.25 325.10 Z" fill="#333"/>
<text x="446.60" y="334.72" font-size="6.5" text-anchor="start" fill="#222" font-weight="normal"  stroke="#222" stroke-width="0.14">MRTO4</text>
<path d="M470.95 330.18 V333.68" stroke="#333" stroke-width="0.7" fill="none"/>
<path d="M469.55 332.78 L470.95 334.88 L472.35 332.78 Z" fill="#333"/>
<text x="446.60" y="342.40" font-size="6.5" text-anchor="start" fill="#222" font-weight="normal"  stroke="#222" stroke-width="0.14">NHP2</text>
<path d="M465.54 337.86 V341.36" stroke="#333" stroke-width="0.7" fill="none"/>
<path d="M464.14 340.46 L465.54 342.56 L466.94 340.46 Z" fill="#333"/>
<text x="446.60" y="350.08" font-size="6.5" text-anchor="start" fill="#222" font-weight="normal"  stroke="#222" stroke-width="0.14">RRP1B</text>
<path d="M469.87 345.54 V349.04" stroke="#333" stroke-width="0.7" fill="none"/>
<path d="M468.47 348.14 L469.87 350.24 L471.27 348.14 Z" fill="#333"/>
<text x="7.00" y="240.61" font-size="10.5" text-anchor="start" fill="#111" font-weight="bold" stroke="#111" stroke-width="0.08" >K</text>
<line x1="51" y1="266.3" x2="51" y2="332.9" stroke="#1a1a1a" stroke-width="1.1"/>
<line x1="50.5" y1="332.4" x2="95" y2="332.4" stroke="#1a1a1a" stroke-width="1.1"/>
<line x1="48" y1="267.8" x2="51" y2="267.8" stroke="#222" stroke-width="0.8"/>
<text x="45.20" y="269.86" font-size="6" text-anchor="end" fill="#222" font-weight="normal" stroke="#222" stroke-width="0.08" >&#8722;0.49</text>
<line x1="48" y1="283.9" x2="51" y2="283.9" stroke="#222" stroke-width="0.8"/>
<text x="45.20" y="285.96" font-size="6" text-anchor="end" fill="#222" font-weight="normal" stroke="#222" stroke-width="0.08" >&#8722;0.50</text>
<line x1="48" y1="300.0" x2="51" y2="300.0" stroke="#222" stroke-width="0.8"/>
<text x="45.20" y="302.06" font-size="6" text-anchor="end" fill="#222" font-weight="normal" stroke="#222" stroke-width="0.08" >&#8722;0.51</text>
<line x1="48" y1="316.2" x2="51" y2="316.2" stroke="#222" stroke-width="0.8"/>
<text x="45.20" y="318.26" font-size="6" text-anchor="end" fill="#222" font-weight="normal" stroke="#222" stroke-width="0.08" >&#8722;0.52</text>
<line x1="48" y1="332.4" x2="51" y2="332.4" stroke="#222" stroke-width="0.8"/>
<text x="45.20" y="334.46" font-size="6" text-anchor="end" fill="#222" font-weight="normal" stroke="#222" stroke-width="0.08" >&#8722;0.53</text>
<text x="72.50" y="250.60" font-size="8" text-anchor="middle" fill="#222" font-weight="normal" stroke="#222" stroke-width="0.08" >Activated CD8</text>
<text x="72.50" y="259.80" font-size="8" text-anchor="middle" fill="#222" font-weight="normal" stroke="#222" stroke-width="0.08" >T cell</text>
<line x1="62.8" y1="283.0" x2="81.8" y2="293.7" stroke="#2b2b2b" stroke-width="0.8"/>
<line x1="62.8" y1="288.2" x2="81.8" y2="320.2" stroke="#2b2b2b" stroke-width="0.8"/>
<line x1="62.8" y1="299.8" x2="81.8" y2="317.1" stroke="#2b2b2b" stroke-width="0.8"/>
<circle cx="62.8" cy="283.0" r="2.1" fill="#f0a232"/>
<circle cx="62.8" cy="288.2" r="2.1" fill="#f0a232"/>
<circle cx="62.8" cy="299.8" r="2.1" fill="#f0a232"/>
<rect x="80.0" y="291.9" width="3.6" height="3.6" fill="#1d6b51"/>
<rect x="80.0" y="315.3" width="3.6" height="3.6" fill="#1d6b51"/>
<rect x="80.0" y="318.4" width="3.6" height="3.6" fill="#1d6b51"/>
<line x1="64" y1="277.4" x2="81.7" y2="277.4" stroke="#222" stroke-width="0.8"/>
<text x="72.85" y="276.09" font-size="5.5" text-anchor="middle" fill="#222" font-weight="normal" stroke="#222" stroke-width="0.08" >*</text>
<line x1="125.3" y1="268.2" x2="125.3" y2="333.1" stroke="#1a1a1a" stroke-width="1.1"/>
<line x1="124.8" y1="332.6" x2="169" y2="332.6" stroke="#1a1a1a" stroke-width="1.1"/>
<line x1="122.3" y1="269.7" x2="125.3" y2="269.7" stroke="#222" stroke-width="0.8"/>
<text x="119.50" y="271.76" font-size="6" text-anchor="end" fill="#222" font-weight="normal" stroke="#222" stroke-width="0.08" >&#8722;0.64</text>
<line x1="122.3" y1="282.4" x2="125.3" y2="282.4" stroke="#222" stroke-width="0.8"/>
<text x="119.50" y="284.46" font-size="6" text-anchor="end" fill="#222" font-weight="normal" stroke="#222" stroke-width="0.08" >&#8722;0.65</text>
<line x1="122.3" y1="295.2" x2="125.3" y2="295.2" stroke="#222" stroke-width="0.8"/>
<text x="119.50" y="297.26" font-size="6" text-anchor="end" fill="#222" font-weight="normal" stroke="#222" stroke-width="0.08" >&#8722;0.66</text>
<line x1="122.3" y1="307.7" x2="125.3" y2="307.7" stroke="#222" stroke-width="0.8"/>
<text x="119.50" y="309.76" font-size="6" text-anchor="end" fill="#222" font-weight="normal" stroke="#222" stroke-width="0.08" >&#8722;0.67</text>
<line x1="122.3" y1="320.3" x2="125.3" y2="320.3" stroke="#222" stroke-width="0.8"/>
<text x="119.50" y="322.36" font-size="6" text-anchor="end" fill="#222" font-weight="normal" stroke="#222" stroke-width="0.08" >&#8722;0.68</text>
<line x1="122.3" y1="332.6" x2="125.3" y2="332.6" stroke="#222" stroke-width="0.8"/>
<text x="119.50" y="334.66" font-size="6" text-anchor="end" fill="#222" font-weight="normal" stroke="#222" stroke-width="0.08" >&#8722;0.69</text>
<text x="131.1" y="250.5" font-size="8" fill="#222" stroke="#222" stroke-width="0.15">CD8 T<tspan font-size="6.1" dx="0.3" dy="1.7">EM</tspan></text>
<text x="147.70" y="259.80" font-size="8" text-anchor="middle" fill="#222" font-weight="normal" stroke="#222" stroke-width="0.08" >cell</text>
<line x1="137.6" y1="281.0" x2="155.2" y2="314.6" stroke="#2b2b2b" stroke-width="0.8"/>
<line x1="137.6" y1="284.6" x2="155.2" y2="321.2" stroke="#2b2b2b" stroke-width="0.8"/>
<line x1="137.6" y1="296.2" x2="155.2" y2="312.7" stroke="#2b2b2b" stroke-width="0.8"/>
<circle cx="137.6" cy="281.0" r="2.1" fill="#f0a232"/>
<circle cx="137.6" cy="284.6" r="2.1" fill="#f0a232"/>
<circle cx="137.6" cy="296.2" r="2.1" fill="#f0a232"/>
<rect x="153.39999999999998" y="310.9" width="3.6" height="3.6" fill="#1d6b51"/>
<rect x="153.39999999999998" y="312.8" width="3.6" height="3.6" fill="#1d6b51"/>
<rect x="153.39999999999998" y="319.4" width="3.6" height="3.6" fill="#1d6b51"/>
<line x1="137.6" y1="275.7" x2="156" y2="275.7" stroke="#222" stroke-width="0.8"/>
<text x="146.80" y="274.39" font-size="5.5" text-anchor="middle" fill="#222" font-weight="normal" stroke="#222" stroke-width="0.08" >*</text>
<line x1="196.7" y1="267.0" x2="196.7" y2="333.1" stroke="#1a1a1a" stroke-width="1.1"/>
<line x1="196.2" y1="332.6" x2="239.4" y2="332.6" stroke="#1a1a1a" stroke-width="1.1"/>
<line x1="193.7" y1="268.5" x2="196.7" y2="268.5" stroke="#222" stroke-width="0.8"/>
<text x="190.90" y="270.56" font-size="6" text-anchor="end" fill="#222" font-weight="normal" stroke="#222" stroke-width="0.08" >&#8722;0.56</text>
<line x1="193.7" y1="284.5" x2="196.7" y2="284.5" stroke="#222" stroke-width="0.8"/>
<text x="190.90" y="286.56" font-size="6" text-anchor="end" fill="#222" font-weight="normal" stroke="#222" stroke-width="0.08" >&#8722;0.58</text>
<line x1="193.7" y1="300.5" x2="196.7" y2="300.5" stroke="#222" stroke-width="0.8"/>
<text x="190.90" y="302.56" font-size="6" text-anchor="end" fill="#222" font-weight="normal" stroke="#222" stroke-width="0.08" >&#8722;0.60</text>
<line x1="193.7" y1="316.5" x2="196.7" y2="316.5" stroke="#222" stroke-width="0.8"/>
<text x="190.90" y="318.56" font-size="6" text-anchor="end" fill="#222" font-weight="normal" stroke="#222" stroke-width="0.08" >&#8722;0.62</text>
<line x1="193.7" y1="332.6" x2="196.7" y2="332.6" stroke="#222" stroke-width="0.8"/>
<text x="190.90" y="334.66" font-size="6" text-anchor="end" fill="#222" font-weight="normal" stroke="#222" stroke-width="0.08" >&#8722;0.64</text>
<text x="218.20" y="250.60" font-size="8" text-anchor="middle" fill="#222" font-weight="normal" stroke="#222" stroke-width="0.08" >Activated CD4</text>
<text x="218.20" y="259.80" font-size="8" text-anchor="middle" fill="#222" font-weight="normal" stroke="#222" stroke-width="0.08" >T cell</text>
<line x1="209.1" y1="297.1" x2="227.7" y2="274.4" stroke="#2b2b2b" stroke-width="0.8"/>
<line x1="209.1" y1="297.6" x2="227.7" y2="279.1" stroke="#2b2b2b" stroke-width="0.8"/>
<line x1="209.1" y1="321.8" x2="227.7" y2="319.9" stroke="#2b2b2b" stroke-width="0.8"/>
<circle cx="209.1" cy="297.1" r="2.1" fill="#f0a232"/>
<circle cx="209.1" cy="297.6" r="2.1" fill="#f0a232"/>
<circle cx="209.1" cy="321.8" r="2.1" fill="#f0a232"/>
<rect x="225.89999999999998" y="272.59999999999997" width="3.6" height="3.6" fill="#1d6b51"/>
<rect x="225.89999999999998" y="277.3" width="3.6" height="3.6" fill="#1d6b51"/>
<rect x="225.89999999999998" y="318.09999999999997" width="3.6" height="3.6" fill="#1d6b51"/>
<line x1="271.75" y1="266.5" x2="271.75" y2="332.7" stroke="#1a1a1a" stroke-width="1.1"/>
<line x1="271.25" y1="332.2" x2="315" y2="332.2" stroke="#1a1a1a" stroke-width="1.1"/>
<line x1="268.75" y1="268" x2="271.75" y2="268" stroke="#222" stroke-width="0.8"/>
<text x="265.95" y="270.06" font-size="6" text-anchor="end" fill="#222" font-weight="normal" stroke="#222" stroke-width="0.08" >&#8722;0.88</text>
<line x1="268.75" y1="278.7" x2="271.75" y2="278.7" stroke="#222" stroke-width="0.8"/>
<text x="265.95" y="280.76" font-size="6" text-anchor="end" fill="#222" font-weight="normal" stroke="#222" stroke-width="0.08" >&#8722;0.90</text>
<line x1="268.75" y1="289.4" x2="271.75" y2="289.4" stroke="#222" stroke-width="0.8"/>
<text x="265.95" y="291.46" font-size="6" text-anchor="end" fill="#222" font-weight="normal" stroke="#222" stroke-width="0.08" >&#8722;0.92</text>
<line x1="268.75" y1="300.1" x2="271.75" y2="300.1" stroke="#222" stroke-width="0.8"/>
<text x="265.95" y="302.16" font-size="6" text-anchor="end" fill="#222" font-weight="normal" stroke="#222" stroke-width="0.08" >&#8722;0.94</text>
<line x1="268.75" y1="310.8" x2="271.75" y2="310.8" stroke="#222" stroke-width="0.8"/>
<text x="265.95" y="312.86" font-size="6" text-anchor="end" fill="#222" font-weight="normal" stroke="#222" stroke-width="0.08" >&#8722;0.96</text>
<line x1="268.75" y1="321.5" x2="271.75" y2="321.5" stroke="#222" stroke-width="0.8"/>
<text x="265.95" y="323.56" font-size="6" text-anchor="end" fill="#222" font-weight="normal" stroke="#222" stroke-width="0.08" >&#8722;0.98</text>
<line x1="268.75" y1="332.2" x2="271.75" y2="332.2" stroke="#222" stroke-width="0.8"/>
<text x="265.95" y="334.26" font-size="6" text-anchor="end" fill="#222" font-weight="normal" stroke="#222" stroke-width="0.08" >&#8722;1.00</text>
<text x="293.50" y="250.60" font-size="8" text-anchor="middle" fill="#222" font-weight="normal" stroke="#222" stroke-width="0.08" >Type 2 helper</text>
<text x="293.50" y="259.80" font-size="8" text-anchor="middle" fill="#222" font-weight="normal" stroke="#222" stroke-width="0.08" >cell</text>
<line x1="283.25" y1="285.0" x2="302.5" y2="276.3" stroke="#2b2b2b" stroke-width="0.8"/>
<line x1="283.25" y1="300.5" x2="302.5" y2="289.5" stroke="#2b2b2b" stroke-width="0.8"/>
<line x1="283.25" y1="323.0" x2="302.5" y2="310.8" stroke="#2b2b2b" stroke-width="0.8"/>
<circle cx="283.25" cy="285.0" r="2.1" fill="#f0a232"/>
<circle cx="283.25" cy="300.5" r="2.1" fill="#f0a232"/>
<circle cx="283.25" cy="323.0" r="2.1" fill="#f0a232"/>
<rect x="300.7" y="274.5" width="3.6" height="3.6" fill="#1d6b51"/>
<rect x="300.7" y="287.7" width="3.6" height="3.6" fill="#1d6b51"/>
<rect x="300.7" y="309.0" width="3.6" height="3.6" fill="#1d6b51"/>
<line x1="285" y1="271.75" x2="302.5" y2="271.75" stroke="#222" stroke-width="0.8"/>
<text x="293.75" y="270.44" font-size="5.5" text-anchor="middle" fill="#222" font-weight="normal" stroke="#222" stroke-width="0.08" >*</text>
<text transform="translate(24.3 298.7) rotate(-90)" x="0" y="0" font-size="8" text-anchor="middle" fill="#222" stroke="#222" stroke-width="0.12" textLength="36" lengthAdjust="spacingAndGlyphs">Gene set score</text>
<text x="314.20" y="295.60" font-size="6.1" text-anchor="start" fill="#f2b456" font-weight="normal" stroke="#f2b456" stroke-width="0.08" >Without ECP</text>
<text x="314.2" y="305.60" font-size="6.1" fill="#2f6b5e" stroke="#2f6b5e" stroke-width="0.12">With ECP (2 J/cm<tspan font-size="4.2" dy="-2.2">2</tspan><tspan dy="2.2">)</tspan></text>
<text x="7.20" y="376.61" font-size="10.5" text-anchor="start" fill="#111" font-weight="bold" stroke="#111" stroke-width="0.08" >L</text>
<defs><linearGradient id="cb11" x1="0" x2="1" y1="0" y2="0"><stop offset="0" stop-color="#e8646a"/><stop offset="0.15" stop-color="#f3a3a5"/><stop offset="0.4" stop-color="#fae6e6"/><stop offset="0.55" stop-color="#f8f8f8"/><stop offset="0.75" stop-color="#d5e4f2"/><stop offset="0.92" stop-color="#a6cbea"/><stop offset="1" stop-color="#5d9dd4"/></linearGradient></defs>
<rect x="42.4" y="447.50" width="118.79999999999998" height="3.60" fill="url(#cb11)"/>
<rect x="46.20" y="435.60" width="0.8" height="11.90" fill="rgb(130,130,130)"/>
<rect x="50.30" y="435.60" width="0.8" height="11.90" fill="rgb(152,152,152)"/>
<rect x="52.70" y="435.60" width="0.8" height="11.90" fill="rgb(149,149,149)"/>
<rect x="55.10" y="435.60" width="0.8" height="11.90" fill="rgb(123,123,123)"/>
<rect x="57.50" y="435.60" width="0.8" height="11.90" fill="rgb(138,138,138)"/>
<rect x="61.10" y="435.60" width="0.8" height="11.90" fill="rgb(153,153,153)"/>
<rect x="65.20" y="435.60" width="0.8" height="11.90" fill="rgb(145,145,145)"/>
<rect x="68.80" y="435.60" width="0.8" height="11.90" fill="rgb(155,155,155)"/>
<rect x="73.00" y="435.60" width="0.8" height="11.90" fill="rgb(152,152,152)"/>
<rect x="75.40" y="435.60" width="0.8" height="11.90" fill="rgb(119,119,119)"/>
<rect x="77.80" y="435.60" width="0.8" height="11.90" fill="rgb(153,153,153)"/>
<rect x="79.60" y="435.60" width="0.8" height="11.90" fill="rgb(115,115,115)"/>
<rect x="83.10" y="435.60" width="0.8" height="11.90" fill="rgb(145,145,145)"/>
<rect x="86.10" y="435.60" width="0.8" height="11.90" fill="rgb(131,131,131)"/>
<rect x="89.10" y="435.60" width="0.8" height="11.90" fill="rgb(150,150,150)"/>
<rect x="90.90" y="435.60" width="0.8" height="11.90" fill="rgb(129,129,129)"/>
<rect x="93.90" y="435.60" width="0.8" height="11.90" fill="rgb(127,127,127)"/>
<rect x="96.80" y="435.60" width="0.8" height="11.90" fill="rgb(160,160,160)"/>
<rect x="99.20" y="435.60" width="0.8" height="11.90" fill="rgb(145,145,145)"/>
<rect x="100.80" y="435.60" width="0.8" height="11.90" fill="rgb(149,149,149)"/>
<rect x="103.20" y="435.60" width="0.8" height="11.90" fill="rgb(150,150,150)"/>
<rect x="105.00" y="435.60" width="0.8" height="11.90" fill="rgb(145,145,145)"/>
<rect x="109.70" y="435.60" width="0.8" height="11.90" fill="rgb(140,140,140)"/>
<rect x="116.30" y="435.60" width="0.8" height="11.90" fill="rgb(155,155,155)"/>
<rect x="117.50" y="435.60" width="0.8" height="11.90" fill="rgb(124,124,124)"/>
<rect x="119.30" y="435.60" width="0.8" height="11.90" fill="rgb(129,129,129)"/>
<rect x="121.10" y="435.60" width="0.8" height="11.90" fill="rgb(155,155,155)"/>
<rect x="122.90" y="435.60" width="0.8" height="11.90" fill="rgb(124,124,124)"/>
<rect x="124.00" y="435.60" width="0.8" height="11.90" fill="rgb(148,148,148)"/>
<rect x="125.20" y="435.60" width="0.8" height="11.90" fill="rgb(139,139,139)"/>
<rect x="127.00" y="435.60" width="0.8" height="11.90" fill="rgb(115,115,115)"/>
<rect x="128.80" y="435.60" width="0.8" height="11.90" fill="rgb(157,157,157)"/>
<rect x="131.20" y="435.60" width="0.8" height="11.90" fill="rgb(119,119,119)"/>
<rect x="132.40" y="435.60" width="0.8" height="11.90" fill="rgb(125,125,125)"/>
<rect x="134.20" y="435.60" width="0.8" height="11.90" fill="rgb(152,152,152)"/>
<rect x="140.10" y="435.60" width="0.8" height="11.90" fill="rgb(117,117,117)"/>
<rect x="141.30" y="435.60" width="0.8" height="11.90" fill="rgb(134,134,134)"/>
<rect x="148.50" y="435.60" width="0.8" height="11.90" fill="rgb(116,116,116)"/>
<rect x="149.70" y="435.60" width="0.8" height="11.90" fill="rgb(132,132,132)"/>
<rect x="155.60" y="435.60" width="0.8" height="11.90" fill="rgb(145,145,145)"/>
<rect x="158.00" y="435.60" width="0.8" height="11.90" fill="rgb(153,153,153)"/>
<rect x="76.50" y="435.60" width="0.6" height="11.90" fill="rgb(197,197,197)"/>
<rect x="105.80" y="435.60" width="0.6" height="11.90" fill="rgb(198,198,198)"/>
<rect x="64.00" y="435.60" width="0.6" height="11.90" fill="rgb(197,197,197)"/>
<rect x="155.80" y="435.60" width="0.6" height="11.90" fill="rgb(209,209,209)"/>
<rect x="77.70" y="435.60" width="0.6" height="11.90" fill="rgb(208,208,208)"/>
<rect x="91.20" y="435.60" width="0.6" height="11.90" fill="rgb(194,194,194)"/>
<rect x="73.60" y="435.60" width="0.6" height="11.90" fill="rgb(206,206,206)"/>
<rect x="78.00" y="435.60" width="0.6" height="11.90" fill="rgb(185,185,185)"/>
<rect x="112.40" y="435.60" width="0.6" height="11.90" fill="rgb(206,206,206)"/>
<rect x="50.40" y="435.60" width="0.6" height="11.90" fill="rgb(207,207,207)"/>
<rect x="138.50" y="435.60" width="0.6" height="11.90" fill="rgb(215,215,215)"/>
<rect x="124.20" y="435.60" width="0.6" height="11.90" fill="rgb(196,196,196)"/>
<rect x="99.00" y="435.60" width="0.6" height="11.90" fill="rgb(196,196,196)"/>
<rect x="49.40" y="435.60" width="0.6" height="11.90" fill="rgb(186,186,186)"/>
<rect x="153.80" y="435.60" width="0.6" height="11.90" fill="rgb(207,207,207)"/>
<rect x="141.60" y="435.60" width="0.6" height="11.90" fill="rgb(186,186,186)"/>
<rect x="106.90" y="435.60" width="0.6" height="11.90" fill="rgb(211,211,211)"/>
<rect x="85.50" y="435.60" width="0.6" height="11.90" fill="rgb(185,185,185)"/>
<rect x="95.70" y="435.60" width="0.6" height="11.90" fill="rgb(196,196,196)"/>
<rect x="115.70" y="435.60" width="0.6" height="11.90" fill="rgb(197,197,197)"/>
<rect x="56.60" y="435.60" width="0.6" height="11.90" fill="rgb(200,200,200)"/>
<rect x="151.50" y="435.60" width="0.6" height="11.90" fill="rgb(214,214,214)"/>
<rect x="83.00" y="435.60" width="0.6" height="11.90" fill="rgb(207,207,207)"/>
<rect x="147.10" y="435.60" width="0.6" height="11.90" fill="rgb(201,201,201)"/>
<rect x="133.40" y="435.60" width="0.6" height="11.90" fill="rgb(191,191,191)"/>
<rect x="111.70" y="435.60" width="0.6" height="11.90" fill="rgb(208,208,208)"/>
<rect x="143.30" y="435.60" width="0.6" height="11.90" fill="rgb(187,187,187)"/>
<rect x="93.40" y="435.60" width="0.6" height="11.90" fill="rgb(190,190,190)"/>
<rect x="67.10" y="435.60" width="0.6" height="11.90" fill="rgb(217,217,217)"/>
<rect x="114.20" y="435.60" width="0.6" height="11.90" fill="rgb(194,194,194)"/>
<rect x="82.50" y="435.60" width="0.6" height="11.90" fill="rgb(219,219,219)"/>
<rect x="53.50" y="435.60" width="0.6" height="11.90" fill="rgb(205,205,205)"/>
<rect x="78.50" y="435.60" width="0.6" height="11.90" fill="rgb(190,190,190)"/>
<rect x="116.00" y="435.60" width="0.6" height="11.90" fill="rgb(204,204,204)"/>
<rect x="159.30" y="435.60" width="0.6" height="11.90" fill="rgb(195,195,195)"/>
<rect x="127.00" y="435.60" width="0.6" height="11.90" fill="rgb(190,190,190)"/>
<rect x="158.10" y="435.60" width="0.6" height="11.90" fill="rgb(219,219,219)"/>
<rect x="150.80" y="435.60" width="0.6" height="11.90" fill="rgb(187,187,187)"/>
<rect x="70.50" y="435.60" width="0.6" height="11.90" fill="rgb(207,207,207)"/>
<rect x="139.40" y="435.60" width="0.6" height="11.90" fill="rgb(214,214,214)"/>
<line x1="42.4" y1="435.4" x2="161.2" y2="435.4" stroke="#d4d4d4" stroke-width="0.5"/>
<line x1="58.8" y1="392.0" x2="58.8" y2="435.4" stroke="#e4e4e4" stroke-width="0.6"/>
<polyline points="42.60,419.00 43.50,416.90 45.60,410.00 47.50,406.30 49.40,403.80 51.30,398.80 53.10,396.90 55.00,395.00 57.00,393.80 58.75,393.30 63.00,393.30 66.00,394.00 69.00,395.80 72.50,396.90 80.00,397.50 86.25,400.25 91.25,400.60 97.50,401.90 102.50,402.50 110.00,407.50 120.00,415.00 131.25,421.25 147.50,430.00 149.40,429.40 161.00,435.00" fill="none" stroke="#74b85a" stroke-width="0.75" stroke-linejoin="round"/>
<rect x="56.1" y="394.7" width="14.6" height="5.2" fill="#fff"/>
<text x="56.90" y="399.43" font-size="6.2" text-anchor="start" fill="#333" font-weight="normal" stroke="#333" stroke-width="0.08" >2147</text>
<rect x="42.4" y="391.0" width="118.79999999999998" height="60.10" fill="none" stroke="#2e2e2e" stroke-width="0.9"/>
<line x1="39.699999999999996" y1="391.2" x2="42.4" y2="391.2" stroke="#333" stroke-width="0.8"/>
<text x="37.20" y="393.23" font-size="5.9" text-anchor="end" fill="#333" font-weight="normal" stroke="#333" stroke-width="0.08" >0.5</text>
<line x1="39.699999999999996" y1="400.04" x2="42.4" y2="400.04" stroke="#333" stroke-width="0.8"/>
<text x="37.20" y="402.07" font-size="5.9" text-anchor="end" fill="#333" font-weight="normal" stroke="#333" stroke-width="0.08" >0.4</text>
<line x1="39.699999999999996" y1="408.88" x2="42.4" y2="408.88" stroke="#333" stroke-width="0.8"/>
<text x="37.20" y="410.91" font-size="5.9" text-anchor="end" fill="#333" font-weight="normal" stroke="#333" stroke-width="0.08" >0.3</text>
<line x1="39.699999999999996" y1="417.72" x2="42.4" y2="417.72" stroke="#333" stroke-width="0.8"/>
<text x="37.20" y="419.75" font-size="5.9" text-anchor="end" fill="#333" font-weight="normal" stroke="#333" stroke-width="0.08" >0.2</text>
<line x1="39.699999999999996" y1="426.56" x2="42.4" y2="426.56" stroke="#333" stroke-width="0.8"/>
<text x="37.20" y="428.59" font-size="5.9" text-anchor="end" fill="#333" font-weight="normal" stroke="#333" stroke-width="0.08" >0.1</text>
<line x1="39.699999999999996" y1="435.4" x2="42.4" y2="435.4" stroke="#333" stroke-width="0.8"/>
<text x="37.20" y="437.43" font-size="5.9" text-anchor="end" fill="#333" font-weight="normal" stroke="#333" stroke-width="0.08" >0.0</text>
<line x1="117.72" y1="451.10" x2="117.72" y2="453.50" stroke="#333" stroke-width="0.8"/>
<line x1="42.4" y1="451.10" x2="42.4" y2="453.50" stroke="#333" stroke-width="0.8"/>
<text x="101.80" y="386.15" font-size="8" text-anchor="middle" fill="#222" font-weight="normal" stroke="#222" stroke-width="0.08" >Enrichment plot TGF-&#946; signaling</text>
<text transform="translate(22.8 421.6) rotate(-90)" x="0" y="0" font-size="8" text-anchor="middle" fill="#2a2a2a" textLength="55.5" lengthAdjust="spacingAndGlyphs">Enrichment score (ES)</text>
<defs><linearGradient id="cb22" x1="0" x2="1" y1="0" y2="0"><stop offset="0" stop-color="#e8646a"/><stop offset="0.15" stop-color="#f3a3a5"/><stop offset="0.4" stop-color="#fae6e6"/><stop offset="0.55" stop-color="#f8f8f8"/><stop offset="0.75" stop-color="#d5e4f2"/><stop offset="0.92" stop-color="#a6cbea"/><stop offset="1" stop-color="#5d9dd4"/></linearGradient></defs>
<rect x="196.5" y="447.50" width="118.89999999999998" height="3.60" fill="url(#cb22)"/>
<rect x="197.30" y="436.50" width="0.6" height="11.00" fill="rgb(113,113,113)"/>
<rect x="199.44" y="436.50" width="1.0" height="11.00" fill="rgb(120,120,120)"/>
<rect x="200.54" y="436.50" width="0.8" height="11.00" fill="rgb(45,45,45)"/>
<rect x="201.56" y="436.50" width="0.8" height="11.00" fill="rgb(25,25,25)"/>
<rect x="203.09" y="436.50" width="0.6" height="11.00" fill="rgb(28,28,28)"/>
<rect x="205.37" y="436.50" width="1.0" height="11.00" fill="rgb(56,56,56)"/>
<rect x="206.33" y="436.50" width="0.5" height="11.00" fill="rgb(70,70,70)"/>
<rect x="207.84" y="436.50" width="0.6" height="11.00" fill="rgb(120,120,120)"/>
<rect x="208.92" y="436.50" width="0.5" height="11.00" fill="rgb(57,57,57)"/>
<rect x="211.06" y="436.50" width="0.8" height="11.00" fill="rgb(120,120,120)"/>
<rect x="212.73" y="436.50" width="0.6" height="11.00" fill="rgb(108,108,108)"/>
<rect x="214.16" y="436.50" width="0.6" height="11.00" fill="rgb(89,89,89)"/>
<rect x="215.73" y="436.50" width="0.5" height="11.00" fill="rgb(91,91,91)"/>
<rect x="217.11" y="436.50" width="0.8" height="11.00" fill="rgb(79,79,79)"/>
<rect x="218.82" y="436.50" width="0.6" height="11.00" fill="rgb(105,105,105)"/>
<rect x="220.45" y="436.50" width="0.5" height="11.00" fill="rgb(106,106,106)"/>
<rect x="222.55" y="436.50" width="1.0" height="11.00" fill="rgb(50,50,50)"/>
<rect x="225.29" y="436.50" width="1.0" height="11.00" fill="rgb(132,132,132)"/>
<rect x="228.23" y="436.50" width="0.8" height="11.00" fill="rgb(130,130,130)"/>
<rect x="230.71" y="436.50" width="0.5" height="11.00" fill="rgb(29,29,29)"/>
<rect x="233.56" y="436.50" width="0.6" height="11.00" fill="rgb(93,93,93)"/>
<rect x="234.62" y="436.50" width="0.6" height="11.00" fill="rgb(121,121,121)"/>
<rect x="236.61" y="436.50" width="0.8" height="11.00" fill="rgb(120,120,120)"/>
<rect x="239.37" y="436.50" width="0.6" height="11.00" fill="rgb(88,88,88)"/>
<rect x="240.36" y="436.50" width="0.6" height="11.00" fill="rgb(45,45,45)"/>
<rect x="242.56" y="436.50" width="0.6" height="11.00" fill="rgb(62,62,62)"/>
<rect x="243.63" y="436.50" width="0.6" height="11.00" fill="rgb(92,92,92)"/>
<rect x="246.21" y="436.50" width="1.0" height="11.00" fill="rgb(137,137,137)"/>
<rect x="247.32" y="436.50" width="0.6" height="11.00" fill="rgb(71,71,71)"/>
<rect x="250.25" y="436.50" width="1.0" height="11.00" fill="rgb(84,84,84)"/>
<rect x="251.24" y="436.50" width="0.8" height="11.00" fill="rgb(25,25,25)"/>
<rect x="252.33" y="436.50" width="0.8" height="11.00" fill="rgb(27,27,27)"/>
<rect x="253.22" y="436.50" width="0.8" height="11.00" fill="rgb(65,65,65)"/>
<rect x="254.79" y="436.50" width="0.6" height="11.00" fill="rgb(65,65,65)"/>
<rect x="256.89" y="436.50" width="0.8" height="11.00" fill="rgb(137,137,137)"/>
<rect x="258.12" y="436.50" width="0.6" height="11.00" fill="rgb(119,119,119)"/>
<rect x="259.45" y="436.50" width="0.6" height="11.00" fill="rgb(99,99,99)"/>
<rect x="261.72" y="436.50" width="0.5" height="11.00" fill="rgb(137,137,137)"/>
<rect x="263.45" y="436.50" width="0.5" height="11.00" fill="rgb(94,94,94)"/>
<rect x="266.05" y="436.50" width="1.0" height="11.00" fill="rgb(119,119,119)"/>
<rect x="268.95" y="436.50" width="0.6" height="11.00" fill="rgb(152,152,152)"/>
<rect x="270.94" y="436.50" width="0.5" height="11.00" fill="rgb(134,134,134)"/>
<rect x="273.88" y="436.50" width="1.0" height="11.00" fill="rgb(151,151,151)"/>
<rect x="276.66" y="436.50" width="1.0" height="11.00" fill="rgb(107,107,107)"/>
<rect x="278.32" y="436.50" width="0.6" height="11.00" fill="rgb(144,144,144)"/>
<rect x="281.69" y="436.50" width="0.6" height="11.00" fill="rgb(137,137,137)"/>
<rect x="285.16" y="436.50" width="0.8" height="11.00" fill="rgb(150,150,150)"/>
<rect x="287.45" y="436.50" width="0.8" height="11.00" fill="rgb(152,152,152)"/>
<rect x="289.72" y="436.50" width="0.5" height="11.00" fill="rgb(127,127,127)"/>
<rect x="292.70" y="436.50" width="0.6" height="11.00" fill="rgb(89,89,89)"/>
<rect x="296.23" y="436.50" width="0.6" height="11.00" fill="rgb(109,109,109)"/>
<rect x="298.35" y="436.50" width="0.8" height="11.00" fill="rgb(120,120,120)"/>
<rect x="301.57" y="436.50" width="0.5" height="11.00" fill="rgb(81,81,81)"/>
<rect x="304.15" y="436.50" width="0.5" height="11.00" fill="rgb(138,138,138)"/>
<rect x="307.21" y="436.50" width="0.8" height="11.00" fill="rgb(126,126,126)"/>
<rect x="310.38" y="436.50" width="0.8" height="11.00" fill="rgb(136,136,136)"/>
<rect x="312.12" y="436.50" width="0.6" height="11.00" fill="rgb(119,119,119)"/>
<line x1="196.5" y1="431.3" x2="315.4" y2="431.3" stroke="#d4d4d4" stroke-width="0.5"/>
<line x1="196.5" y1="435.4" x2="315.4" y2="435.4" stroke="#ececec" stroke-width="0.5"/>
<line x1="212.5" y1="392.2" x2="212.5" y2="431.3" stroke="#e4e4e4" stroke-width="0.6"/>
<polyline points="196.90,416.50 197.75,411.75 200.00,405.50 202.50,399.90 205.00,398.60 206.90,396.75 208.50,394.25 210.00,393.50 224.00,393.50 225.60,394.25 232.50,395.50 238.75,398.00 247.50,401.75 250.00,402.90 267.30,415.00 284.60,423.60 296.70,429.70 303.70,432.70 308.80,432.30 313.20,433.20 315.20,431.60" fill="none" stroke="#74b85a" stroke-width="0.75" stroke-linejoin="round"/>
<rect x="209.5" y="392.2" width="14.6" height="5.2" fill="#fff"/>
<text x="210.30" y="396.93" font-size="6.2" text-anchor="start" fill="#333" font-weight="normal" stroke="#333" stroke-width="0.08" >2247</text>
<rect x="196.5" y="391.2" width="118.89999999999998" height="59.90" fill="none" stroke="#2e2e2e" stroke-width="0.9"/>
<line x1="193.8" y1="391.3" x2="196.5" y2="391.3" stroke="#333" stroke-width="0.8"/>
<text x="191.30" y="393.33" font-size="5.9" text-anchor="end" fill="#333" font-weight="normal" stroke="#333" stroke-width="0.08" >0.5</text>
<line x1="193.8" y1="399.3" x2="196.5" y2="399.3" stroke="#333" stroke-width="0.8"/>
<text x="191.30" y="401.33" font-size="5.9" text-anchor="end" fill="#333" font-weight="normal" stroke="#333" stroke-width="0.08" >0.4</text>
<line x1="193.8" y1="407.3" x2="196.5" y2="407.3" stroke="#333" stroke-width="0.8"/>
<text x="191.30" y="409.33" font-size="5.9" text-anchor="end" fill="#333" font-weight="normal" stroke="#333" stroke-width="0.08" >0.3</text>
<line x1="193.8" y1="415.3" x2="196.5" y2="415.3" stroke="#333" stroke-width="0.8"/>
<text x="191.30" y="417.33" font-size="5.9" text-anchor="end" fill="#333" font-weight="normal" stroke="#333" stroke-width="0.08" >0.2</text>
<line x1="193.8" y1="423.3" x2="196.5" y2="423.3" stroke="#333" stroke-width="0.8"/>
<text x="191.30" y="425.33" font-size="5.9" text-anchor="end" fill="#333" font-weight="normal" stroke="#333" stroke-width="0.08" >0.1</text>
<line x1="193.8" y1="431.3" x2="196.5" y2="431.3" stroke="#333" stroke-width="0.8"/>
<text x="191.30" y="433.33" font-size="5.9" text-anchor="end" fill="#333" font-weight="normal" stroke="#333" stroke-width="0.08" >0.0</text>
<line x1="193.8" y1="435.4" x2="196.5" y2="435.4" stroke="#333" stroke-width="0.8"/>
<line x1="271.88" y1="451.10" x2="271.88" y2="453.50" stroke="#333" stroke-width="0.8"/>
<line x1="196.5" y1="451.10" x2="196.5" y2="453.50" stroke="#333" stroke-width="0.8"/>
<text x="256.00" y="386.15" font-size="8" text-anchor="middle" fill="#222" font-weight="normal" stroke="#222" stroke-width="0.08" >Enrichment plot Apoptosis</text>
<text transform="translate(177.0 421.6) rotate(-90)" x="0" y="0" font-size="8" text-anchor="middle" fill="#2a2a2a" textLength="55.5" lengthAdjust="spacingAndGlyphs">Enrichment score (ES)</text>
<defs><linearGradient id="cb33" x1="0" x2="1" y1="0" y2="0"><stop offset="0" stop-color="#e8646a"/><stop offset="0.15" stop-color="#f3a3a5"/><stop offset="0.4" stop-color="#fae6e6"/><stop offset="0.55" stop-color="#f8f8f8"/><stop offset="0.75" stop-color="#d5e4f2"/><stop offset="0.92" stop-color="#a6cbea"/><stop offset="1" stop-color="#5d9dd4"/></linearGradient></defs>
<rect x="350.8" y="447.50" width="118.89999999999998" height="3.60" fill="url(#cb33)"/>
<rect x="351.60" y="436.90" width="0.6" height="10.60" fill="rgb(77,77,77)"/>
<rect x="354.30" y="436.90" width="0.8" height="10.60" fill="rgb(94,94,94)"/>
<rect x="357.13" y="436.90" width="0.6" height="10.60" fill="rgb(37,37,37)"/>
<rect x="360.03" y="436.90" width="0.8" height="10.60" fill="rgb(38,38,38)"/>
<rect x="362.09" y="436.90" width="1.0" height="10.60" fill="rgb(117,117,117)"/>
<rect x="364.47" y="436.90" width="0.5" height="10.60" fill="rgb(115,115,115)"/>
<rect x="366.05" y="436.90" width="1.0" height="10.60" fill="rgb(46,46,46)"/>
<rect x="368.58" y="436.90" width="1.0" height="10.60" fill="rgb(56,56,56)"/>
<rect x="370.10" y="436.90" width="0.8" height="10.60" fill="rgb(86,86,86)"/>
<rect x="372.50" y="436.90" width="0.5" height="10.60" fill="rgb(50,50,50)"/>
<rect x="374.10" y="436.90" width="0.8" height="10.60" fill="rgb(35,35,35)"/>
<rect x="377.18" y="436.90" width="0.5" height="10.60" fill="rgb(63,63,63)"/>
<rect x="378.35" y="436.90" width="0.8" height="10.60" fill="rgb(61,61,61)"/>
<rect x="380.38" y="436.90" width="0.8" height="10.60" fill="rgb(149,149,149)"/>
<rect x="382.43" y="436.90" width="0.8" height="10.60" fill="rgb(86,86,86)"/>
<rect x="384.19" y="436.90" width="0.5" height="10.60" fill="rgb(48,48,48)"/>
<rect x="385.89" y="436.90" width="0.5" height="10.60" fill="rgb(142,142,142)"/>
<rect x="387.00" y="436.90" width="0.8" height="10.60" fill="rgb(149,149,149)"/>
<rect x="388.80" y="436.90" width="0.8" height="10.60" fill="rgb(126,126,126)"/>
<rect x="390.12" y="436.90" width="1.0" height="10.60" fill="rgb(97,97,97)"/>
<rect x="392.07" y="436.90" width="0.8" height="10.60" fill="rgb(82,82,82)"/>
<rect x="393.96" y="436.90" width="0.8" height="10.60" fill="rgb(94,94,94)"/>
<rect x="394.89" y="436.90" width="1.0" height="10.60" fill="rgb(106,106,106)"/>
<rect x="397.50" y="436.90" width="0.5" height="10.60" fill="rgb(73,73,73)"/>
<rect x="398.94" y="436.90" width="1.0" height="10.60" fill="rgb(66,66,66)"/>
<rect x="401.76" y="436.90" width="0.6" height="10.60" fill="rgb(45,45,45)"/>
<rect x="404.26" y="436.90" width="1.0" height="10.60" fill="rgb(145,145,145)"/>
<rect x="405.36" y="436.90" width="0.8" height="10.60" fill="rgb(96,96,96)"/>
<rect x="407.18" y="436.90" width="1.0" height="10.60" fill="rgb(119,119,119)"/>
<rect x="410.01" y="436.90" width="1.0" height="10.60" fill="rgb(105,105,105)"/>
<rect x="412.58" y="436.90" width="0.8" height="10.60" fill="rgb(57,57,57)"/>
<rect x="414.20" y="436.90" width="0.5" height="10.60" fill="rgb(39,39,39)"/>
<rect x="417.11" y="436.90" width="0.8" height="10.60" fill="rgb(78,78,78)"/>
<rect x="418.64" y="436.90" width="0.6" height="10.60" fill="rgb(62,62,62)"/>
<rect x="421.67" y="436.90" width="1.0" height="10.60" fill="rgb(100,100,100)"/>
<rect x="424.35" y="436.90" width="0.8" height="10.60" fill="rgb(63,63,63)"/>
<rect x="426.54" y="436.90" width="0.5" height="10.60" fill="rgb(52,52,52)"/>
<rect x="428.81" y="436.90" width="0.5" height="10.60" fill="rgb(123,123,123)"/>
<rect x="429.92" y="436.90" width="0.8" height="10.60" fill="rgb(52,52,52)"/>
<rect x="430.99" y="436.90" width="0.5" height="10.60" fill="rgb(127,127,127)"/>
<rect x="432.30" y="436.90" width="0.5" height="10.60" fill="rgb(142,142,142)"/>
<rect x="434.70" y="436.90" width="0.5" height="10.60" fill="rgb(83,83,83)"/>
<rect x="437.79" y="436.90" width="0.8" height="10.60" fill="rgb(149,149,149)"/>
<rect x="440.75" y="436.90" width="1.0" height="10.60" fill="rgb(147,147,147)"/>
<rect x="441.85" y="436.90" width="0.6" height="10.60" fill="rgb(97,97,97)"/>
<rect x="444.47" y="436.90" width="0.6" height="10.60" fill="rgb(58,58,58)"/>
<rect x="445.87" y="436.90" width="0.5" height="10.60" fill="rgb(111,111,111)"/>
<rect x="446.96" y="436.90" width="1.0" height="10.60" fill="rgb(50,50,50)"/>
<rect x="449.99" y="436.90" width="0.5" height="10.60" fill="rgb(57,57,57)"/>
<rect x="451.99" y="436.90" width="0.8" height="10.60" fill="rgb(78,78,78)"/>
<rect x="453.61" y="436.90" width="0.6" height="10.60" fill="rgb(67,67,67)"/>
<rect x="454.72" y="436.90" width="1.0" height="10.60" fill="rgb(92,92,92)"/>
<rect x="456.61" y="436.90" width="0.6" height="10.60" fill="rgb(50,50,50)"/>
<rect x="458.67" y="436.90" width="0.6" height="10.60" fill="rgb(120,120,120)"/>
<rect x="459.96" y="436.90" width="0.6" height="10.60" fill="rgb(134,134,134)"/>
<rect x="461.91" y="436.90" width="1.0" height="10.60" fill="rgb(97,97,97)"/>
<rect x="464.22" y="436.90" width="0.6" height="10.60" fill="rgb(148,148,148)"/>
<rect x="465.17" y="436.90" width="0.6" height="10.60" fill="rgb(111,111,111)"/>
<rect x="466.87" y="436.90" width="0.8" height="10.60" fill="rgb(122,122,122)"/>
<line x1="350.8" y1="431.2" x2="469.7" y2="431.2" stroke="#d4d4d4" stroke-width="0.5"/>
<line x1="350.8" y1="435.8" x2="469.7" y2="435.8" stroke="#ececec" stroke-width="0.5"/>
<line x1="379.9" y1="392.6" x2="379.9" y2="431.2" stroke="#e4e4e4" stroke-width="0.6"/>
<polyline points="351.10,420.50 352.40,414.25 354.90,408.00 356.75,406.75 358.00,407.40 359.90,404.90 361.10,406.50 362.75,401.75 364.25,399.90 366.75,398.60 368.60,396.50 369.90,394.90 371.10,395.50 373.00,394.90 374.50,394.50 389.00,394.50 390.50,395.75 398.00,399.90 405.50,404.25 415.30,409.30 430.80,421.50 442.40,427.30 446.20,426.70 450.10,427.70 460.40,431.20 462.30,431.20 465.60,429.00 469.40,430.50" fill="none" stroke="#74b85a" stroke-width="0.75" stroke-linejoin="round"/>
<rect x="374.09999999999997" y="394.09999999999997" width="14.6" height="5.2" fill="#fff"/>
<text x="374.90" y="398.83" font-size="6.2" text-anchor="start" fill="#333" font-weight="normal" stroke="#333" stroke-width="0.08" >3879</text>
<rect x="350.8" y="391.6" width="118.89999999999998" height="59.50" fill="none" stroke="#2e2e2e" stroke-width="0.9"/>
<line x1="348.1" y1="396.3" x2="350.8" y2="396.3" stroke="#333" stroke-width="0.8"/>
<text x="345.60" y="398.33" font-size="5.9" text-anchor="end" fill="#333" font-weight="normal" stroke="#333" stroke-width="0.08" >0.4</text>
<line x1="348.1" y1="405.07" x2="350.8" y2="405.07" stroke="#333" stroke-width="0.8"/>
<text x="345.60" y="407.10" font-size="5.9" text-anchor="end" fill="#333" font-weight="normal" stroke="#333" stroke-width="0.08" >0.3</text>
<line x1="348.1" y1="413.84" x2="350.8" y2="413.84" stroke="#333" stroke-width="0.8"/>
<text x="345.60" y="415.87" font-size="5.9" text-anchor="end" fill="#333" font-weight="normal" stroke="#333" stroke-width="0.08" >0.2</text>
<line x1="348.1" y1="422.61" x2="350.8" y2="422.61" stroke="#333" stroke-width="0.8"/>
<text x="345.60" y="424.64" font-size="5.9" text-anchor="end" fill="#333" font-weight="normal" stroke="#333" stroke-width="0.08" >0.1</text>
<line x1="348.1" y1="431.38" x2="350.8" y2="431.38" stroke="#333" stroke-width="0.8"/>
<text x="345.60" y="433.41" font-size="5.9" text-anchor="end" fill="#333" font-weight="normal" stroke="#333" stroke-width="0.08" >0.0</text>
<line x1="348.1" y1="435.8" x2="350.8" y2="435.8" stroke="#333" stroke-width="0.8"/>
<line x1="426.18" y1="451.10" x2="426.18" y2="453.50" stroke="#333" stroke-width="0.8"/>
<line x1="350.8" y1="451.10" x2="350.8" y2="453.50" stroke="#333" stroke-width="0.8"/>
<text x="410.20" y="386.15" font-size="8" text-anchor="middle" fill="#222" font-weight="normal" stroke="#222" stroke-width="0.08" >Enrichment plot DNA repair</text>
<text transform="translate(331.2 421.9) rotate(-90)" x="0" y="0" font-size="8" text-anchor="middle" fill="#2a2a2a" textLength="55.5" lengthAdjust="spacingAndGlyphs">Enrichment score (ES)</text>
<defs><linearGradient id="cb44" x1="0" x2="1" y1="0" y2="0"><stop offset="0" stop-color="#e8646a"/><stop offset="0.15" stop-color="#f3a3a5"/><stop offset="0.4" stop-color="#fae6e6"/><stop offset="0.55" stop-color="#f8f8f8"/><stop offset="0.75" stop-color="#d5e4f2"/><stop offset="0.92" stop-color="#a6cbea"/><stop offset="1" stop-color="#5d9dd4"/></linearGradient></defs>
<rect x="42.4" y="540.70" width="118.9" height="3.60" fill="url(#cb44)"/>
<rect x="44.98" y="530.30" width="0.85" height="10.40" fill="rgb(81,81,81)"/>
<rect x="46.78" y="530.30" width="0.85" height="10.40" fill="rgb(66,66,66)"/>
<rect x="48.48" y="530.30" width="0.85" height="10.40" fill="rgb(49,49,49)"/>
<rect x="50.28" y="530.30" width="0.85" height="10.40" fill="rgb(43,43,43)"/>
<rect x="52.68" y="530.30" width="0.85" height="10.40" fill="rgb(80,80,80)"/>
<rect x="54.48" y="530.30" width="0.85" height="10.40" fill="rgb(42,42,42)"/>
<rect x="56.28" y="530.30" width="0.85" height="10.40" fill="rgb(71,71,71)"/>
<rect x="57.48" y="530.30" width="0.85" height="10.40" fill="rgb(61,61,61)"/>
<rect x="60.48" y="530.30" width="0.85" height="10.40" fill="rgb(53,53,53)"/>
<rect x="61.68" y="530.30" width="0.85" height="10.40" fill="rgb(48,48,48)"/>
<rect x="64.58" y="530.30" width="0.85" height="10.40" fill="rgb(86,86,86)"/>
<rect x="66.38" y="530.30" width="0.85" height="10.40" fill="rgb(76,76,76)"/>
<rect x="68.17" y="530.30" width="0.85" height="10.40" fill="rgb(48,48,48)"/>
<rect x="71.17" y="530.30" width="0.85" height="10.40" fill="rgb(80,80,80)"/>
<rect x="72.98" y="530.30" width="0.85" height="10.40" fill="rgb(90,90,90)"/>
<rect x="75.38" y="530.30" width="0.85" height="10.40" fill="rgb(66,66,66)"/>
<rect x="77.78" y="530.30" width="0.85" height="10.40" fill="rgb(46,46,46)"/>
<rect x="80.08" y="530.30" width="0.85" height="10.40" fill="rgb(50,50,50)"/>
<rect x="81.88" y="530.30" width="0.85" height="10.40" fill="rgb(67,67,67)"/>
<rect x="83.67" y="530.30" width="0.85" height="10.40" fill="rgb(63,63,63)"/>
<rect x="84.88" y="530.30" width="0.85" height="10.40" fill="rgb(49,49,49)"/>
<rect x="89.67" y="530.30" width="0.85" height="10.40" fill="rgb(43,43,43)"/>
<rect x="92.08" y="530.30" width="0.85" height="10.40" fill="rgb(66,66,66)"/>
<rect x="94.38" y="530.30" width="0.85" height="10.40" fill="rgb(58,58,58)"/>
<rect x="100.78" y="530.30" width="0.85" height="10.40" fill="rgb(49,49,49)"/>
<rect x="103.17" y="530.30" width="0.85" height="10.40" fill="rgb(69,69,69)"/>
<rect x="104.98" y="530.30" width="0.85" height="10.40" fill="rgb(79,79,79)"/>
<rect x="106.78" y="530.30" width="0.85" height="10.40" fill="rgb(50,50,50)"/>
<rect x="112.67" y="530.30" width="0.85" height="10.40" fill="rgb(73,73,73)"/>
<rect x="114.48" y="530.30" width="0.85" height="10.40" fill="rgb(69,69,69)"/>
<rect x="116.88" y="530.30" width="0.85" height="10.40" fill="rgb(71,71,71)"/>
<rect x="118.67" y="530.30" width="0.85" height="10.40" fill="rgb(84,84,84)"/>
<rect x="122.88" y="530.30" width="0.85" height="10.40" fill="rgb(86,86,86)"/>
<rect x="123.98" y="530.30" width="0.85" height="10.40" fill="rgb(60,60,60)"/>
<rect x="125.17" y="530.30" width="0.85" height="10.40" fill="rgb(70,70,70)"/>
<rect x="128.17" y="530.30" width="0.85" height="10.40" fill="rgb(57,57,57)"/>
<rect x="129.97" y="530.30" width="0.85" height="10.40" fill="rgb(58,58,58)"/>
<rect x="131.77" y="530.30" width="0.85" height="10.40" fill="rgb(70,70,70)"/>
<rect x="134.17" y="530.30" width="0.85" height="10.40" fill="rgb(65,65,65)"/>
<rect x="135.38" y="530.30" width="0.85" height="10.40" fill="rgb(49,49,49)"/>
<rect x="137.77" y="530.30" width="0.85" height="10.40" fill="rgb(47,47,47)"/>
<rect x="139.57" y="530.30" width="0.85" height="10.40" fill="rgb(64,64,64)"/>
<rect x="141.27" y="530.30" width="0.85" height="10.40" fill="rgb(74,74,74)"/>
<rect x="143.67" y="530.30" width="0.85" height="10.40" fill="rgb(51,51,51)"/>
<rect x="146.67" y="530.30" width="0.85" height="10.40" fill="rgb(80,80,80)"/>
<rect x="149.67" y="530.30" width="0.85" height="10.40" fill="rgb(71,71,71)"/>
<rect x="152.07" y="530.30" width="0.85" height="10.40" fill="rgb(61,61,61)"/>
<rect x="153.77" y="530.30" width="0.85" height="10.40" fill="rgb(51,51,51)"/>
<rect x="154.97" y="530.30" width="0.85" height="10.40" fill="rgb(45,45,45)"/>
<rect x="156.17" y="530.30" width="0.85" height="10.40" fill="rgb(71,71,71)"/>
<rect x="157.57" y="530.30" width="0.85" height="10.40" fill="rgb(57,57,57)"/>
<rect x="159.07" y="530.30" width="0.85" height="10.40" fill="rgb(72,72,72)"/>
<rect x="134.20" y="530.30" width="0.6" height="10.40" fill="rgb(193,193,193)"/>
<rect x="85.00" y="530.30" width="0.6" height="10.40" fill="rgb(200,200,200)"/>
<rect x="124.00" y="530.30" width="0.6" height="10.40" fill="rgb(214,214,214)"/>
<rect x="131.60" y="530.30" width="0.6" height="10.40" fill="rgb(194,194,194)"/>
<rect x="120.90" y="530.30" width="0.6" height="10.40" fill="rgb(193,193,193)"/>
<rect x="73.70" y="530.30" width="0.6" height="10.40" fill="rgb(197,197,197)"/>
<rect x="154.70" y="530.30" width="0.6" height="10.40" fill="rgb(202,202,202)"/>
<rect x="118.70" y="530.30" width="0.6" height="10.40" fill="rgb(177,177,177)"/>
<rect x="133.20" y="530.30" width="0.6" height="10.40" fill="rgb(176,176,176)"/>
<rect x="121.30" y="530.30" width="0.6" height="10.40" fill="rgb(197,197,197)"/>
<rect x="76.50" y="530.30" width="0.6" height="10.40" fill="rgb(195,195,195)"/>
<rect x="118.50" y="530.30" width="0.6" height="10.40" fill="rgb(205,205,205)"/>
<rect x="83.40" y="530.30" width="0.6" height="10.40" fill="rgb(204,204,204)"/>
<rect x="129.00" y="530.30" width="0.6" height="10.40" fill="rgb(215,215,215)"/>
<rect x="83.70" y="530.30" width="0.6" height="10.40" fill="rgb(176,176,176)"/>
<rect x="144.50" y="530.30" width="0.6" height="10.40" fill="rgb(171,171,171)"/>
<rect x="156.90" y="530.30" width="0.6" height="10.40" fill="rgb(193,193,193)"/>
<rect x="103.30" y="530.30" width="0.6" height="10.40" fill="rgb(184,184,184)"/>
<rect x="157.40" y="530.30" width="0.6" height="10.40" fill="rgb(174,174,174)"/>
<rect x="140.60" y="530.30" width="0.6" height="10.40" fill="rgb(170,170,170)"/>
<rect x="75.80" y="530.30" width="0.6" height="10.40" fill="rgb(199,199,199)"/>
<rect x="126.90" y="530.30" width="0.6" height="10.40" fill="rgb(209,209,209)"/>
<rect x="62.80" y="530.30" width="0.6" height="10.40" fill="rgb(205,205,205)"/>
<rect x="120.60" y="530.30" width="0.6" height="10.40" fill="rgb(167,167,167)"/>
<rect x="78.10" y="530.30" width="0.6" height="10.40" fill="rgb(203,203,203)"/>
<rect x="133.30" y="530.30" width="0.6" height="10.40" fill="rgb(190,190,190)"/>
<rect x="127.00" y="530.30" width="0.6" height="10.40" fill="rgb(193,193,193)"/>
<rect x="65.60" y="530.30" width="0.6" height="10.40" fill="rgb(206,206,206)"/>
<rect x="115.70" y="530.30" width="0.6" height="10.40" fill="rgb(212,212,212)"/>
<rect x="68.30" y="530.30" width="0.6" height="10.40" fill="rgb(204,204,204)"/>
<rect x="116.50" y="530.30" width="0.6" height="10.40" fill="rgb(206,206,206)"/>
<rect x="158.10" y="530.30" width="0.6" height="10.40" fill="rgb(175,175,175)"/>
<rect x="62.10" y="530.30" width="0.6" height="10.40" fill="rgb(204,204,204)"/>
<rect x="55.70" y="530.30" width="0.6" height="10.40" fill="rgb(165,165,165)"/>
<rect x="106.90" y="530.30" width="0.6" height="10.40" fill="rgb(198,198,198)"/>
<rect x="87.20" y="530.30" width="0.6" height="10.40" fill="rgb(169,169,169)"/>
<rect x="111.70" y="530.30" width="0.6" height="10.40" fill="rgb(168,168,168)"/>
<rect x="126.70" y="530.30" width="0.6" height="10.40" fill="rgb(167,167,167)"/>
<rect x="42.80" y="530.30" width="0.6" height="10.40" fill="rgb(177,177,177)"/>
<rect x="154.10" y="530.30" width="0.6" height="10.40" fill="rgb(180,180,180)"/>
<rect x="144.10" y="530.30" width="0.6" height="10.40" fill="rgb(203,203,203)"/>
<line x1="42.4" y1="520.4" x2="161.3" y2="520.4" stroke="#d4d4d4" stroke-width="0.5"/>
<line x1="42.4" y1="529.2" x2="161.3" y2="529.2" stroke="#ececec" stroke-width="0.5"/>
<line x1="57.5" y1="485.7" x2="57.5" y2="520.4" stroke="#e4e4e4" stroke-width="0.6"/>
<polyline points="42.80,506.00 43.10,505.00 44.40,502.50 46.25,497.50 48.10,493.75 50.60,492.50 53.75,491.00 55.00,490.25 60.00,488.00 68.75,484.90 72.50,485.60 81.25,490.00 90.00,493.10 95.00,495.10 108.50,502.20 121.90,513.00 135.40,521.00 148.80,525.80 153.50,527.80 156.90,525.10 159.60,523.70 161.00,524.50" fill="none" stroke="#74b85a" stroke-width="0.75" stroke-linejoin="round"/>
<rect x="53.400000000000006" y="486.4" width="14.6" height="5.2" fill="#fff"/>
<text x="54.20" y="491.13" font-size="6.2" text-anchor="start" fill="#333" font-weight="normal" stroke="#333" stroke-width="0.08" >2129</text>
<rect x="42.4" y="484.7" width="118.9" height="59.60" fill="none" stroke="#2e2e2e" stroke-width="0.9"/>
<line x1="39.699999999999996" y1="485.4" x2="42.4" y2="485.4" stroke="#333" stroke-width="0.8"/>
<text x="37.20" y="487.43" font-size="5.9" text-anchor="end" fill="#333" font-weight="normal" stroke="#333" stroke-width="0.08" >0.4</text>
<line x1="39.699999999999996" y1="494.16" x2="42.4" y2="494.16" stroke="#333" stroke-width="0.8"/>
<text x="37.20" y="496.19" font-size="5.9" text-anchor="end" fill="#333" font-weight="normal" stroke="#333" stroke-width="0.08" >0.3</text>
<line x1="39.699999999999996" y1="502.92" x2="42.4" y2="502.92" stroke="#333" stroke-width="0.8"/>
<text x="37.20" y="504.95" font-size="5.9" text-anchor="end" fill="#333" font-weight="normal" stroke="#333" stroke-width="0.08" >0.2</text>
<line x1="39.699999999999996" y1="511.68" x2="42.4" y2="511.68" stroke="#333" stroke-width="0.8"/>
<text x="37.20" y="513.71" font-size="5.9" text-anchor="end" fill="#333" font-weight="normal" stroke="#333" stroke-width="0.08" >0.1</text>
<line x1="39.699999999999996" y1="520.44" x2="42.4" y2="520.44" stroke="#333" stroke-width="0.8"/>
<text x="37.20" y="522.47" font-size="5.9" text-anchor="end" fill="#333" font-weight="normal" stroke="#333" stroke-width="0.08" >0.0</text>
<line x1="39.699999999999996" y1="529.2" x2="42.4" y2="529.2" stroke="#333" stroke-width="0.8"/>
<text x="37.20" y="531.23" font-size="5.9" text-anchor="end" fill="#333" font-weight="normal" stroke="#333" stroke-width="0.08" >-0.1</text>
<line x1="117.78" y1="544.30" x2="117.78" y2="546.70" stroke="#333" stroke-width="0.8"/>
<line x1="42.4" y1="544.30" x2="42.4" y2="546.70" stroke="#333" stroke-width="0.8"/>
<text x="101.80" y="480.05" font-size="8" text-anchor="middle" fill="#222" font-weight="normal" stroke="#222" stroke-width="0.08" >Enrichment plot Hypoxia</text>
<text transform="translate(22.8 515.0) rotate(-90)" x="0" y="0" font-size="8" text-anchor="middle" fill="#2a2a2a" textLength="55.5" lengthAdjust="spacingAndGlyphs">Enrichment score (ES)</text>
<defs><linearGradient id="cb55" x1="0" x2="1" y1="0" y2="0"><stop offset="0" stop-color="#e8646a"/><stop offset="0.15" stop-color="#f3a3a5"/><stop offset="0.4" stop-color="#fae6e6"/><stop offset="0.55" stop-color="#f8f8f8"/><stop offset="0.75" stop-color="#d5e4f2"/><stop offset="0.92" stop-color="#a6cbea"/><stop offset="1" stop-color="#5d9dd4"/></linearGradient></defs>
<rect x="196.5" y="540.90" width="119.10000000000002" height="3.60" fill="url(#cb55)"/>
<rect x="197.30" y="529.40" width="0.5" height="11.50" fill="rgb(0,0,0)"/>
<rect x="198.00" y="529.40" width="0.8" height="11.50" fill="rgb(0,0,0)"/>
<rect x="199.27" y="529.40" width="0.8" height="11.50" fill="rgb(101,101,101)"/>
<rect x="200.73" y="529.40" width="1.0" height="11.50" fill="rgb(32,32,32)"/>
<rect x="201.61" y="529.40" width="1.0" height="11.50" fill="rgb(118,118,118)"/>
<rect x="204.75" y="529.40" width="0.5" height="11.50" fill="rgb(84,84,84)"/>
<rect x="205.79" y="529.40" width="0.6" height="11.50" fill="rgb(97,97,97)"/>
<rect x="206.77" y="529.40" width="1.0" height="11.50" fill="rgb(61,61,61)"/>
<rect x="207.84" y="529.40" width="0.6" height="11.50" fill="rgb(144,144,144)"/>
<rect x="210.27" y="529.40" width="1.0" height="11.50" fill="rgb(132,132,132)"/>
<rect x="212.98" y="529.40" width="1.0" height="11.50" fill="rgb(135,135,135)"/>
<rect x="214.69" y="529.40" width="0.5" height="11.50" fill="rgb(142,142,142)"/>
<rect x="217.79" y="529.40" width="0.8" height="11.50" fill="rgb(118,118,118)"/>
<rect x="220.17" y="529.40" width="0.6" height="11.50" fill="rgb(102,102,102)"/>
<rect x="223.06" y="529.40" width="0.6" height="11.50" fill="rgb(119,119,119)"/>
<rect x="224.38" y="529.40" width="0.6" height="11.50" fill="rgb(120,120,120)"/>
<rect x="225.62" y="529.40" width="1.0" height="11.50" fill="rgb(63,63,63)"/>
<rect x="227.92" y="529.40" width="0.5" height="11.50" fill="rgb(110,110,110)"/>
<rect x="230.38" y="529.40" width="0.5" height="11.50" fill="rgb(126,126,126)"/>
<rect x="233.21" y="529.40" width="0.8" height="11.50" fill="rgb(121,121,121)"/>
<rect x="234.78" y="529.40" width="0.5" height="11.50" fill="rgb(87,87,87)"/>
<rect x="237.55" y="529.40" width="1.0" height="11.50" fill="rgb(100,100,100)"/>
<rect x="239.61" y="529.40" width="0.8" height="11.50" fill="rgb(140,140,140)"/>
<rect x="241.07" y="529.40" width="1.0" height="11.50" fill="rgb(101,101,101)"/>
<rect x="242.42" y="529.40" width="0.8" height="11.50" fill="rgb(147,147,147)"/>
<rect x="243.92" y="529.40" width="0.8" height="11.50" fill="rgb(62,62,62)"/>
<rect x="245.61" y="529.40" width="0.8" height="11.50" fill="rgb(92,92,92)"/>
<rect x="248.03" y="529.40" width="0.5" height="11.50" fill="rgb(114,114,114)"/>
<rect x="250.52" y="529.40" width="1.0" height="11.50" fill="rgb(117,117,117)"/>
<rect x="252.69" y="529.40" width="1.0" height="11.50" fill="rgb(124,124,124)"/>
<rect x="254.77" y="529.40" width="0.6" height="11.50" fill="rgb(133,133,133)"/>
<rect x="256.20" y="529.40" width="0.8" height="11.50" fill="rgb(104,104,104)"/>
<rect x="258.64" y="529.40" width="0.5" height="11.50" fill="rgb(76,76,76)"/>
<rect x="259.69" y="529.40" width="0.5" height="11.50" fill="rgb(88,88,88)"/>
<rect x="261.22" y="529.40" width="1.0" height="11.50" fill="rgb(130,130,130)"/>
<rect x="263.71" y="529.40" width="0.5" height="11.50" fill="rgb(107,107,107)"/>
<rect x="265.31" y="529.40" width="0.6" height="11.50" fill="rgb(66,66,66)"/>
<rect x="266.32" y="529.40" width="0.6" height="11.50" fill="rgb(102,102,102)"/>
<rect x="268.57" y="529.40" width="0.6" height="11.50" fill="rgb(67,67,67)"/>
<rect x="269.58" y="529.40" width="1.0" height="11.50" fill="rgb(123,123,123)"/>
<rect x="271.51" y="529.40" width="1.0" height="11.50" fill="rgb(93,93,93)"/>
<rect x="274.75" y="529.40" width="0.8" height="11.50" fill="rgb(145,145,145)"/>
<rect x="277.63" y="529.40" width="0.6" height="11.50" fill="rgb(106,106,106)"/>
<rect x="278.63" y="529.40" width="0.5" height="11.50" fill="rgb(81,81,81)"/>
<rect x="281.47" y="529.40" width="0.8" height="11.50" fill="rgb(72,72,72)"/>
<rect x="284.04" y="529.40" width="0.5" height="11.50" fill="rgb(59,59,59)"/>
<rect x="287.29" y="529.40" width="0.5" height="11.50" fill="rgb(107,107,107)"/>
<rect x="289.93" y="529.40" width="0.5" height="11.50" fill="rgb(98,98,98)"/>
<rect x="291.06" y="529.40" width="0.8" height="11.50" fill="rgb(106,106,106)"/>
<rect x="293.90" y="529.40" width="1.0" height="11.50" fill="rgb(98,98,98)"/>
<rect x="296.66" y="529.40" width="0.6" height="11.50" fill="rgb(125,125,125)"/>
<rect x="297.92" y="529.40" width="0.8" height="11.50" fill="rgb(94,94,94)"/>
<rect x="300.42" y="529.40" width="0.8" height="11.50" fill="rgb(94,94,94)"/>
<rect x="301.50" y="529.40" width="1.0" height="11.50" fill="rgb(93,93,93)"/>
<rect x="303.19" y="529.40" width="0.5" height="11.50" fill="rgb(97,97,97)"/>
<rect x="305.52" y="529.40" width="0.5" height="11.50" fill="rgb(84,84,84)"/>
<rect x="308.68" y="529.40" width="0.8" height="11.50" fill="rgb(146,146,146)"/>
<rect x="311.73" y="529.40" width="0.5" height="11.50" fill="rgb(101,101,101)"/>
<rect x="314.32" y="529.40" width="1.0" height="11.50" fill="rgb(126,126,126)"/>
<line x1="196.5" y1="529.2" x2="315.6" y2="529.2" stroke="#d4d4d4" stroke-width="0.5"/>
<line x1="209.4" y1="485.9" x2="209.4" y2="529.2" stroke="#e4e4e4" stroke-width="0.6"/>
<polyline points="196.80,513.75 197.50,501.25 198.75,495.00 200.00,493.10 201.90,492.50 203.75,491.25 205.00,489.40 206.25,488.10 207.50,487.50 220.00,487.50 222.50,488.75 232.50,493.10 245.00,498.75 255.00,502.25 267.50,508.10 280.00,515.00 292.50,521.25 302.50,525.00 310.00,526.90 315.40,529.20" fill="none" stroke="#74b85a" stroke-width="0.75" stroke-linejoin="round"/>
<rect x="206.7" y="486.09999999999997" width="14.6" height="5.2" fill="#fff"/>
<text x="207.50" y="490.83" font-size="6.2" text-anchor="start" fill="#333" font-weight="normal" stroke="#333" stroke-width="0.08" >1774</text>
<rect x="196.5" y="484.9" width="119.10000000000002" height="59.60" fill="none" stroke="#2e2e2e" stroke-width="0.9"/>
<line x1="193.8" y1="485.7" x2="196.5" y2="485.7" stroke="#333" stroke-width="0.8"/>
<text x="191.30" y="487.73" font-size="5.9" text-anchor="end" fill="#333" font-weight="normal" stroke="#333" stroke-width="0.08" >0.7</text>
<line x1="193.8" y1="491.91" x2="196.5" y2="491.91" stroke="#333" stroke-width="0.8"/>
<text x="191.30" y="493.94" font-size="5.9" text-anchor="end" fill="#333" font-weight="normal" stroke="#333" stroke-width="0.08" >0.6</text>
<line x1="193.8" y1="498.12" x2="196.5" y2="498.12" stroke="#333" stroke-width="0.8"/>
<text x="191.30" y="500.15" font-size="5.9" text-anchor="end" fill="#333" font-weight="normal" stroke="#333" stroke-width="0.08" >0.5</text>
<line x1="193.8" y1="504.33" x2="196.5" y2="504.33" stroke="#333" stroke-width="0.8"/>
<text x="191.30" y="506.36" font-size="5.9" text-anchor="end" fill="#333" font-weight="normal" stroke="#333" stroke-width="0.08" >0.4</text>
<line x1="193.8" y1="510.54" x2="196.5" y2="510.54" stroke="#333" stroke-width="0.8"/>
<text x="191.30" y="512.57" font-size="5.9" text-anchor="end" fill="#333" font-weight="normal" stroke="#333" stroke-width="0.08" >0.3</text>
<line x1="193.8" y1="516.75" x2="196.5" y2="516.75" stroke="#333" stroke-width="0.8"/>
<text x="191.30" y="518.78" font-size="5.9" text-anchor="end" fill="#333" font-weight="normal" stroke="#333" stroke-width="0.08" >0.2</text>
<line x1="193.8" y1="522.96" x2="196.5" y2="522.96" stroke="#333" stroke-width="0.8"/>
<text x="191.30" y="524.99" font-size="5.9" text-anchor="end" fill="#333" font-weight="normal" stroke="#333" stroke-width="0.08" >0.1</text>
<line x1="193.8" y1="529.17" x2="196.5" y2="529.17" stroke="#333" stroke-width="0.8"/>
<text x="191.30" y="531.20" font-size="5.9" text-anchor="end" fill="#333" font-weight="normal" stroke="#333" stroke-width="0.08" >0.0</text>
<line x1="272.01" y1="544.50" x2="272.01" y2="546.90" stroke="#333" stroke-width="0.8"/>
<line x1="196.5" y1="544.50" x2="196.5" y2="546.90" stroke="#333" stroke-width="0.8"/>
<text x="256.00" y="480.05" font-size="8" text-anchor="middle" fill="#222" font-weight="normal" stroke="#222" stroke-width="0.08" >Enrichment plot p53 pathway</text>
<text transform="translate(177.0 515.2) rotate(-90)" x="0" y="0" font-size="8" text-anchor="middle" fill="#2a2a2a" textLength="55.5" lengthAdjust="spacingAndGlyphs">Enrichment score (ES)</text>
<defs><linearGradient id="cb66" x1="0" x2="1" y1="0" y2="0"><stop offset="0" stop-color="#e8646a"/><stop offset="0.15" stop-color="#f3a3a5"/><stop offset="0.4" stop-color="#fae6e6"/><stop offset="0.55" stop-color="#f8f8f8"/><stop offset="0.75" stop-color="#d5e4f2"/><stop offset="0.92" stop-color="#a6cbea"/><stop offset="1" stop-color="#5d9dd4"/></linearGradient></defs>
<rect x="350.8" y="540.90" width="118.80000000000001" height="3.60" fill="url(#cb66)"/>
<rect x="351.60" y="530.30" width="0.5" height="10.60" fill="rgb(95,95,95)"/>
<rect x="354.09" y="530.30" width="1.0" height="10.60" fill="rgb(97,97,97)"/>
<rect x="356.69" y="530.30" width="0.5" height="10.60" fill="rgb(38,38,38)"/>
<rect x="359.18" y="530.30" width="1.0" height="10.60" fill="rgb(111,111,111)"/>
<rect x="360.93" y="530.30" width="0.5" height="10.60" fill="rgb(42,42,42)"/>
<rect x="363.05" y="530.30" width="1.0" height="10.60" fill="rgb(41,41,41)"/>
<rect x="364.67" y="530.30" width="0.5" height="10.60" fill="rgb(67,67,67)"/>
<rect x="367.02" y="530.30" width="0.6" height="10.60" fill="rgb(113,113,113)"/>
<rect x="369.99" y="530.30" width="0.6" height="10.60" fill="rgb(77,77,77)"/>
<rect x="373.20" y="530.30" width="0.6" height="10.60" fill="rgb(80,80,80)"/>
<rect x="375.54" y="530.30" width="0.8" height="10.60" fill="rgb(131,131,131)"/>
<rect x="376.64" y="530.30" width="0.8" height="10.60" fill="rgb(47,47,47)"/>
<rect x="379.61" y="530.30" width="1.0" height="10.60" fill="rgb(145,145,145)"/>
<rect x="380.76" y="530.30" width="0.8" height="10.60" fill="rgb(152,152,152)"/>
<rect x="381.98" y="530.30" width="1.0" height="10.60" fill="rgb(87,87,87)"/>
<rect x="383.05" y="530.30" width="1.0" height="10.60" fill="rgb(92,92,92)"/>
<rect x="384.23" y="530.30" width="1.0" height="10.60" fill="rgb(119,119,119)"/>
<rect x="387.07" y="530.30" width="0.8" height="10.60" fill="rgb(56,56,56)"/>
<rect x="389.68" y="530.30" width="0.6" height="10.60" fill="rgb(133,133,133)"/>
<rect x="392.74" y="530.30" width="0.8" height="10.60" fill="rgb(63,63,63)"/>
<rect x="394.34" y="530.30" width="0.8" height="10.60" fill="rgb(89,89,89)"/>
<rect x="396.35" y="530.30" width="0.5" height="10.60" fill="rgb(86,86,86)"/>
<rect x="398.75" y="530.30" width="0.8" height="10.60" fill="rgb(117,117,117)"/>
<rect x="399.94" y="530.30" width="0.5" height="10.60" fill="rgb(64,64,64)"/>
<rect x="401.73" y="530.30" width="0.5" height="10.60" fill="rgb(152,152,152)"/>
<rect x="402.73" y="530.30" width="0.6" height="10.60" fill="rgb(93,93,93)"/>
<rect x="405.20" y="530.30" width="0.6" height="10.60" fill="rgb(69,69,69)"/>
<rect x="406.38" y="530.30" width="1.0" height="10.60" fill="rgb(142,142,142)"/>
<rect x="407.55" y="530.30" width="1.0" height="10.60" fill="rgb(53,53,53)"/>
<rect x="410.40" y="530.30" width="0.6" height="10.60" fill="rgb(146,146,146)"/>
<rect x="413.06" y="530.30" width="0.5" height="10.60" fill="rgb(99,99,99)"/>
<rect x="415.55" y="530.30" width="0.6" height="10.60" fill="rgb(46,46,46)"/>
<rect x="417.61" y="530.30" width="0.6" height="10.60" fill="rgb(87,87,87)"/>
<rect x="420.48" y="530.30" width="1.0" height="10.60" fill="rgb(76,76,76)"/>
<rect x="422.05" y="530.30" width="0.5" height="10.60" fill="rgb(116,116,116)"/>
<rect x="425.11" y="530.30" width="1.0" height="10.60" fill="rgb(135,135,135)"/>
<rect x="426.55" y="530.30" width="0.6" height="10.60" fill="rgb(91,91,91)"/>
<rect x="429.69" y="530.30" width="0.5" height="10.60" fill="rgb(61,61,61)"/>
<rect x="432.00" y="530.30" width="0.5" height="10.60" fill="rgb(93,93,93)"/>
<rect x="433.32" y="530.30" width="0.8" height="10.60" fill="rgb(71,71,71)"/>
<rect x="436.10" y="530.30" width="1.0" height="10.60" fill="rgb(108,108,108)"/>
<rect x="437.58" y="530.30" width="0.5" height="10.60" fill="rgb(119,119,119)"/>
<rect x="439.24" y="530.30" width="0.8" height="10.60" fill="rgb(123,123,123)"/>
<rect x="440.23" y="530.30" width="0.5" height="10.60" fill="rgb(109,109,109)"/>
<rect x="442.30" y="530.30" width="0.8" height="10.60" fill="rgb(93,93,93)"/>
<rect x="445.52" y="530.30" width="0.5" height="10.60" fill="rgb(132,132,132)"/>
<rect x="446.94" y="530.30" width="1.0" height="10.60" fill="rgb(47,47,47)"/>
<rect x="448.51" y="530.30" width="0.6" height="10.60" fill="rgb(63,63,63)"/>
<rect x="450.39" y="530.30" width="0.5" height="10.60" fill="rgb(106,106,106)"/>
<rect x="453.45" y="530.30" width="0.8" height="10.60" fill="rgb(74,74,74)"/>
<rect x="456.16" y="530.30" width="0.6" height="10.60" fill="rgb(92,92,92)"/>
<rect x="459.12" y="530.30" width="0.8" height="10.60" fill="rgb(55,55,55)"/>
<rect x="461.70" y="530.30" width="0.8" height="10.60" fill="rgb(138,138,138)"/>
<rect x="463.35" y="530.30" width="1.0" height="10.60" fill="rgb(70,70,70)"/>
<rect x="466.52" y="530.30" width="1.0" height="10.60" fill="rgb(45,45,45)"/>
<rect x="468.72" y="530.30" width="1.0" height="10.60" fill="rgb(48,48,48)"/>
<line x1="350.8" y1="525.3" x2="469.6" y2="525.3" stroke="#d4d4d4" stroke-width="0.5"/>
<line x1="350.8" y1="529.2" x2="469.6" y2="529.2" stroke="#ececec" stroke-width="0.5"/>
<line x1="364.3" y1="485.9" x2="364.3" y2="525.3" stroke="#e4e4e4" stroke-width="0.6"/>
<polyline points="350.90,508.75 351.75,502.50 353.00,498.75 354.90,496.90 356.75,496.25 358.00,495.00 359.25,493.10 360.50,491.90 362.40,491.00 363.00,490.80 377.00,489.20 378.00,489.00 380.50,489.00 389.25,490.60 398.00,493.75 405.50,496.90 408.00,498.75 420.50,506.25 433.00,515.00 445.50,521.25 451.75,523.75 458.00,525.25 461.75,523.75 465.50,523.75 469.40,525.00" fill="none" stroke="#74b85a" stroke-width="0.75" stroke-linejoin="round"/>
<rect x="362.4" y="488.0" width="14.6" height="5.2" fill="#fff"/>
<text x="363.20" y="492.73" font-size="6.2" text-anchor="start" fill="#333" font-weight="normal" stroke="#333" stroke-width="0.08" >1871</text>
<rect x="350.8" y="484.9" width="118.80000000000001" height="59.60" fill="none" stroke="#2e2e2e" stroke-width="0.9"/>
<line x1="348.1" y1="486.0" x2="350.8" y2="486.0" stroke="#333" stroke-width="0.8"/>
<text x="345.60" y="488.03" font-size="5.9" text-anchor="end" fill="#333" font-weight="normal" stroke="#333" stroke-width="0.08" >0.5</text>
<line x1="348.1" y1="493.88" x2="350.8" y2="493.88" stroke="#333" stroke-width="0.8"/>
<text x="345.60" y="495.91" font-size="5.9" text-anchor="end" fill="#333" font-weight="normal" stroke="#333" stroke-width="0.08" >0.4</text>
<line x1="348.1" y1="501.76" x2="350.8" y2="501.76" stroke="#333" stroke-width="0.8"/>
<text x="345.60" y="503.79" font-size="5.9" text-anchor="end" fill="#333" font-weight="normal" stroke="#333" stroke-width="0.08" >0.3</text>
<line x1="348.1" y1="509.64" x2="350.8" y2="509.64" stroke="#333" stroke-width="0.8"/>
<text x="345.60" y="511.67" font-size="5.9" text-anchor="end" fill="#333" font-weight="normal" stroke="#333" stroke-width="0.08" >0.2</text>
<line x1="348.1" y1="517.52" x2="350.8" y2="517.52" stroke="#333" stroke-width="0.8"/>
<text x="345.60" y="519.55" font-size="5.9" text-anchor="end" fill="#333" font-weight="normal" stroke="#333" stroke-width="0.08" >0.1</text>
<line x1="348.1" y1="525.4" x2="350.8" y2="525.4" stroke="#333" stroke-width="0.8"/>
<text x="345.60" y="527.43" font-size="5.9" text-anchor="end" fill="#333" font-weight="normal" stroke="#333" stroke-width="0.08" >0.0</text>
<line x1="348.1" y1="529.2" x2="350.8" y2="529.2" stroke="#333" stroke-width="0.8"/>
<line x1="426.12" y1="544.50" x2="426.12" y2="546.90" stroke="#333" stroke-width="0.8"/>
<line x1="350.8" y1="544.50" x2="350.8" y2="546.90" stroke="#333" stroke-width="0.8"/>
<text x="410.20" y="470.05" font-size="8" text-anchor="middle" fill="#222" font-weight="normal" stroke="#222" stroke-width="0.08" >Enrichment plot TNF-&#945; signaling</text>
<text x="410.20" y="480.05" font-size="8" text-anchor="middle" fill="#222" font-weight="normal" stroke="#222" stroke-width="0.08" >via NF-&#954;B</text>
<text transform="translate(331.2 515.2) rotate(-90)" x="0" y="0" font-size="8" text-anchor="middle" fill="#2a2a2a" textLength="55.5" lengthAdjust="spacingAndGlyphs">Enrichment score (ES)</text>
<defs><linearGradient id="sn" x1="0" x2="0" y1="0" y2="1"><stop offset="0" stop-color="#c8262c"/><stop offset="0.3" stop-color="#f09a9a"/><stop offset="0.5" stop-color="#ffffff"/><stop offset="0.7" stop-color="#9cc3e3"/><stop offset="1" stop-color="#1f5f9e"/></linearGradient></defs>
<text x="475.70" y="411.04" font-size="6.5" text-anchor="start" fill="#333" font-weight="normal"  stroke="#333" stroke-width="0.15" textLength="18.2" lengthAdjust="spacingAndGlyphs">Signal-</text>
<text x="476.90" y="418.14" font-size="6.5" text-anchor="start" fill="#333" font-weight="normal"  stroke="#333" stroke-width="0.15" textLength="15.5" lengthAdjust="spacingAndGlyphs">Noise</text>
<rect x="475.8" y="422.1" width="3.8" height="25.5" fill="url(#sn)"/>
<text x="485.40" y="426.43" font-size="5.6" text-anchor="middle" fill="#444" font-weight="normal"  stroke="none">2</text>
<text x="485.40" y="431.93" font-size="5.6" text-anchor="middle" fill="#444" font-weight="normal"  stroke="none">1</text>
<text x="485.40" y="437.03" font-size="5.6" text-anchor="middle" fill="#444" font-weight="normal"  stroke="none">0</text>
<text x="485.40" y="442.33" font-size="5.6" text-anchor="middle" fill="#444" font-weight="normal"  stroke="none">&#8722;1</text>
<text x="485.40" y="447.63" font-size="5.6" text-anchor="middle" fill="#444" font-weight="normal"  stroke="none">&#8722;2</text>
<rect x="475.8" y="458.6" width="5.7" height="5.3" fill="#5cb73e"/>
<text x="484.40" y="463.57" font-size="6.3" text-anchor="start" fill="#3a3a3a" font-weight="normal"  stroke="none" textLength="29.0" lengthAdjust="spacingAndGlyphs">Enrichment</text>
<text x="484.40" y="471.17" font-size="6.3" text-anchor="start" fill="#3a3a3a" font-weight="normal"  stroke="none" textLength="16.2" lengthAdjust="spacingAndGlyphs">profile</text>
<rect x="475.8" y="475.3" width="5.7" height="5.7" fill="#111"/>
<text x="484.40" y="480.17" font-size="6.3" text-anchor="start" fill="#3a3a3a" font-weight="normal"  stroke="none" textLength="10.4" lengthAdjust="spacingAndGlyphs">Hits</text>
<rect x="475.8" y="488.5" width="5.7" height="5.7" fill="#c4c4c4"/>
<text x="484.40" y="493.17" font-size="6.3" text-anchor="start" fill="#3a3a3a" font-weight="normal"  stroke="none" textLength="20.8" lengthAdjust="spacingAndGlyphs">Ranking</text>
<text x="484.40" y="500.77" font-size="6.3" text-anchor="start" fill="#3a3a3a" font-weight="normal"  stroke="none" textLength="16.7" lengthAdjust="spacingAndGlyphs">metric</text>
<text x="484.40" y="507.77" font-size="6.3" text-anchor="start" fill="#3a3a3a" font-weight="normal"  stroke="none" textLength="17.7" lengthAdjust="spacingAndGlyphs">scores</text>
<rect x="0.5" y="0.5" width="519" height="553" fill="none" stroke="#555" stroke-width="1"/>
</svg>
</body></html>
